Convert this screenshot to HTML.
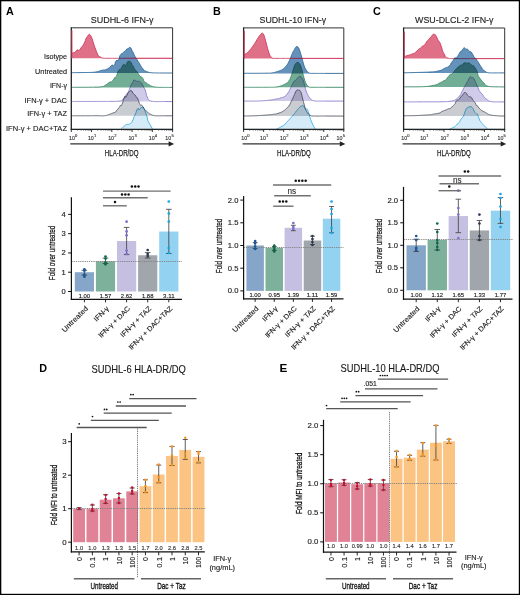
<!DOCTYPE html>
<html><head><meta charset="utf-8"><style>
html,body{margin:0;padding:0;background:#fff;}
svg{display:block;}
text{font-family:"Liberation Sans", sans-serif;}
</style></head><body>
<svg width="520" height="595" viewBox="0 0 520 595">
<rect x="0" y="0" width="520" height="595" fill="#fff"/>
<g style="isolation:isolate">
<g style="mix-blend-mode:multiply"><path d="M71.3,58.3 L71.6,30.3 L71.8,53.63 L72.37,53.26 L73.17,52.81 L74.1,52.66 L75,52.2 L75.71,51.81 L76.44,50.54 L77.19,50.12 L77.92,49.65 L78.6,50.8 L79.4,50.12 L80.16,49.31 L80.86,48.05 L81.5,47.14 L82.51,46.09 L83.4,44.98 L84.35,42.87 L85.3,40.8 L86.22,37.88 L87.2,36.9 L87.93,35.78 L88.7,34.6 L89.5,34.28 L90.3,35.05 L91.13,36.37 L92,38.38 L92.7,40.47 L93.42,42.98 L94.17,45.26 L94.9,47.38 L95.58,49.12 L96.23,51.08 L96.94,52.85 L97.8,54.8 L98.46,55.66 L99.16,56.3 L99.92,56.73 L100.74,57.23 L101.63,57.66 L102.6,57.96 L103.2,58.14 L103.79,58.24 L104.39,58.3 L105.01,58.3 L105.66,58.3 L106.37,58.3 L107.14,58.3 L107.99,58.3 L108.94,58.3 L110,58.3 L110.57,58.3 L111.19,58.3 L111.88,58.3 L112.6,58.3 L113.37,58.3 L114.17,58.3 L114.99,58.3 L115.83,58.3 L116.68,58.3 L117.54,58.3 L118.39,58.3 L119.22,58.3 L120.04,58.3 L120.83,58.3 L121.59,58.3 L122.3,58.3 L122.97,58.3 L123.58,58.3 L124.12,58.3 L124.6,58.3 L125,58.3 L172.6,58.3 Z" fill="#e07088" stroke="none"/><path d="M71.3,58.3 L71.6,30.3 L71.8,53.63 L72.37,53.26 L73.17,52.81 L74.1,52.66 L75,52.2 L75.71,51.81 L76.44,50.54 L77.19,50.12 L77.92,49.65 L78.6,50.8 L79.4,50.12 L80.16,49.31 L80.86,48.05 L81.5,47.14 L82.51,46.09 L83.4,44.98 L84.35,42.87 L85.3,40.8 L86.22,37.88 L87.2,36.9 L87.93,35.78 L88.7,34.6 L89.5,34.28 L90.3,35.05 L91.13,36.37 L92,38.38 L92.7,40.47 L93.42,42.98 L94.17,45.26 L94.9,47.38 L95.58,49.12 L96.23,51.08 L96.94,52.85 L97.8,54.8 L98.46,55.66 L99.16,56.3 L99.92,56.73 L100.74,57.23 L101.63,57.66 L102.6,57.96 L103.2,58.14 L103.79,58.24 L104.39,58.3 L105.01,58.3 L105.66,58.3 L106.37,58.3 L107.14,58.3 L107.99,58.3 L108.94,58.3 L110,58.3 L110.57,58.3 L111.19,58.3 L111.88,58.3 L112.6,58.3 L113.37,58.3 L114.17,58.3 L114.99,58.3 L115.83,58.3 L116.68,58.3 L117.54,58.3 L118.39,58.3 L119.22,58.3 L120.04,58.3 L120.83,58.3 L121.59,58.3 L122.3,58.3 L122.97,58.3 L123.58,58.3 L124.12,58.3 L124.6,58.3 L125,58.3 L172.6,58.3" fill="none" stroke="#cf3a5e" stroke-width="0.9" stroke-linejoin="round"/></g>
<g style="mix-blend-mode:multiply"><path d="M71.3,73 L71.4,73 L71.4,72.7 L71.8,72.69 L72.28,72.69 L72.82,72.68 L73.44,72.67 L74.1,72.67 L74.82,72.66 L75.57,72.65 L76.36,72.64 L77.17,72.63 L78,72.62 L78.84,72.61 L79.68,72.6 L80.51,72.58 L81.34,72.57 L82.14,72.56 L82.92,72.54 L83.66,72.53 L84.35,72.52 L85,72.5 L85.82,72.48 L86.61,72.47 L87.37,72.47 L88.11,72.46 L88.82,72.46 L89.52,72.45 L90.2,72.44 L90.87,72.43 L91.54,72.4 L92.2,72.37 L92.87,72.32 L93.53,72.27 L94.21,72.19 L94.9,72.09 L95.66,71.98 L96.44,71.84 L97.23,71.75 L98.03,71.58 L98.83,71.39 L99.63,70.92 L100.41,70.68 L101.17,70.45 L101.91,70.37 L102.62,70.15 L103.29,69.95 L103.92,70.14 L104.5,69.95 L105.55,69.72 L106.38,69.31 L107.07,69.08 L107.73,68.82 L108.44,68.31 L109.3,67.87 L109.98,67.43 L110.73,66.09 L111.53,65.49 L112.35,64.85 L113.17,66.04 L113.98,65.48 L114.75,64.93 L115.47,61.83 L116.1,61.06 L117.05,60.04 L117.83,61.07 L118.52,59.88 L119.18,58.72 L119.9,55.7 L120.69,54.64 L121.5,53.62 L122.31,53.65 L123.08,52.74 L123.8,51.88 L124.62,51.55 L125.38,50.75 L126.07,50.09 L126.7,49.12 L127.71,48.75 L128.6,48.59 L129.49,47.18 L130.5,47.66 L131.13,48.52 L131.83,50.2 L132.59,51.52 L133.4,52.89 L134.09,54.82 L134.81,56.13 L135.56,57.51 L136.36,58.56 L137.2,59.96 L137.95,61.32 L138.76,62.2 L139.59,63.75 L140.43,65.24 L141.24,66.6 L142,67.76 L142.82,68.73 L143.58,70.04 L144.32,70.53 L145.08,70.93 L145.9,71.21 L146.6,71.55 L147.27,71.85 L147.96,72.1 L148.73,72.33 L149.63,72.53 L150.7,72.67 L151.29,72.76 L151.98,72.81 L152.73,72.86 L153.53,72.89 L154.37,72.91 L155.22,72.93 L156.07,72.95 L156.9,72.96 L157.68,72.97 L158.4,72.98 L159.04,72.98 L159.58,72.99 L160,73 L172.6,73 Z" fill="#6592ba" stroke="none"/><path d="M71.3,73 L71.4,73 L71.4,72.7 L71.8,72.69 L72.28,72.69 L72.82,72.68 L73.44,72.67 L74.1,72.67 L74.82,72.66 L75.57,72.65 L76.36,72.64 L77.17,72.63 L78,72.62 L78.84,72.61 L79.68,72.6 L80.51,72.58 L81.34,72.57 L82.14,72.56 L82.92,72.54 L83.66,72.53 L84.35,72.52 L85,72.5 L85.82,72.48 L86.61,72.47 L87.37,72.47 L88.11,72.46 L88.82,72.46 L89.52,72.45 L90.2,72.44 L90.87,72.43 L91.54,72.4 L92.2,72.37 L92.87,72.32 L93.53,72.27 L94.21,72.19 L94.9,72.09 L95.66,71.98 L96.44,71.84 L97.23,71.75 L98.03,71.58 L98.83,71.39 L99.63,70.92 L100.41,70.68 L101.17,70.45 L101.91,70.37 L102.62,70.15 L103.29,69.95 L103.92,70.14 L104.5,69.95 L105.55,69.72 L106.38,69.31 L107.07,69.08 L107.73,68.82 L108.44,68.31 L109.3,67.87 L109.98,67.43 L110.73,66.09 L111.53,65.49 L112.35,64.85 L113.17,66.04 L113.98,65.48 L114.75,64.93 L115.47,61.83 L116.1,61.06 L117.05,60.04 L117.83,61.07 L118.52,59.88 L119.18,58.72 L119.9,55.7 L120.69,54.64 L121.5,53.62 L122.31,53.65 L123.08,52.74 L123.8,51.88 L124.62,51.55 L125.38,50.75 L126.07,50.09 L126.7,49.12 L127.71,48.75 L128.6,48.59 L129.49,47.18 L130.5,47.66 L131.13,48.52 L131.83,50.2 L132.59,51.52 L133.4,52.89 L134.09,54.82 L134.81,56.13 L135.56,57.51 L136.36,58.56 L137.2,59.96 L137.95,61.32 L138.76,62.2 L139.59,63.75 L140.43,65.24 L141.24,66.6 L142,67.76 L142.82,68.73 L143.58,70.04 L144.32,70.53 L145.08,70.93 L145.9,71.21 L146.6,71.55 L147.27,71.85 L147.96,72.1 L148.73,72.33 L149.63,72.53 L150.7,72.67 L151.29,72.76 L151.98,72.81 L152.73,72.86 L153.53,72.89 L154.37,72.91 L155.22,72.93 L156.07,72.95 L156.9,72.96 L157.68,72.97 L158.4,72.98 L159.04,72.98 L159.58,72.99 L160,73 L172.6,73" fill="none" stroke="#2f6a9a" stroke-width="0.9" stroke-linejoin="round"/></g>
<g style="mix-blend-mode:multiply"><path d="M71.3,87.4 L71.4,87.4 L71.4,87.3 L71.79,87.3 L72.24,87.3 L72.74,87.3 L73.3,87.3 L73.9,87.3 L74.55,87.3 L75.23,87.3 L75.95,87.3 L76.7,87.3 L77.47,87.3 L78.27,87.3 L79.08,87.29 L79.91,87.29 L80.75,87.29 L81.59,87.29 L82.44,87.29 L83.28,87.28 L84.11,87.28 L84.93,87.27 L85.74,87.27 L86.52,87.26 L87.28,87.25 L88.02,87.24 L88.72,87.23 L89.38,87.21 L90,87.2 L90.91,87.18 L91.79,87.16 L92.66,87.15 L93.5,87.14 L94.33,87.13 L95.13,87.12 L95.91,87.11 L96.67,87.09 L97.41,87.07 L98.13,87.04 L98.83,87 L99.51,86.95 L100.17,86.89 L100.81,86.81 L101.42,86.72 L102.02,86.62 L102.6,86.46 L103.62,86.3 L104.54,85.69 L105.37,85.23 L106.14,84.73 L106.84,84.26 L107.49,83.75 L108.11,83.27 L108.71,82.76 L109.3,82.35 L110.26,81.96 L111.07,81.91 L111.78,81.64 L112.47,81.23 L113.2,80.1 L113.96,78.97 L114.72,77.53 L115.48,77.92 L116.24,76.45 L117,75.08 L117.76,72 L118.51,70.8 L119.27,69.65 L120.06,69.46 L120.9,68.49 L121.66,67.67 L122.48,65.56 L123.33,64.89 L124.16,64.26 L124.96,65.65 L125.7,65.05 L126.65,64.33 L127.49,61.79 L128.31,61.34 L129.2,61.26 L129.85,61.38 L130.53,61.87 L131.22,62.52 L131.93,64.64 L132.66,65.5 L133.4,66.41 L134.17,68.49 L134.96,69.59 L135.76,70.77 L136.58,71.15 L137.39,72.33 L138.2,73.43 L139.01,74.81 L139.84,75.8 L140.66,76.76 L141.47,76.86 L142.26,77.78 L143,78.73 L143.79,80.9 L144.5,81.8 L145.18,82.67 L145.93,82.5 L146.8,83.32 L147.43,83.91 L148.11,84.2 L148.83,84.65 L149.58,85.07 L150.34,85.72 L151.1,86.02 L151.86,86.28 L152.6,86.49 L153.29,86.69 L153.91,86.85 L154.52,86.97 L155.14,87.06 L155.8,87.14 L156.54,87.19 L157.4,87.25 L158.4,87.29 L158.99,87.32 L159.65,87.35 L160.38,87.36 L161.16,87.38 L161.99,87.39 L162.83,87.39 L163.7,87.4 L164.56,87.4 L165.42,87.4 L166.24,87.4 L167.04,87.4 L167.78,87.4 L168.46,87.4 L169.07,87.4 L169.58,87.4 L170,87.4 L172.6,87.4 Z" fill="#72ae95" stroke="none"/><path d="M71.3,87.4 L71.4,87.4 L71.4,87.3 L71.79,87.3 L72.24,87.3 L72.74,87.3 L73.3,87.3 L73.9,87.3 L74.55,87.3 L75.23,87.3 L75.95,87.3 L76.7,87.3 L77.47,87.3 L78.27,87.3 L79.08,87.29 L79.91,87.29 L80.75,87.29 L81.59,87.29 L82.44,87.29 L83.28,87.28 L84.11,87.28 L84.93,87.27 L85.74,87.27 L86.52,87.26 L87.28,87.25 L88.02,87.24 L88.72,87.23 L89.38,87.21 L90,87.2 L90.91,87.18 L91.79,87.16 L92.66,87.15 L93.5,87.14 L94.33,87.13 L95.13,87.12 L95.91,87.11 L96.67,87.09 L97.41,87.07 L98.13,87.04 L98.83,87 L99.51,86.95 L100.17,86.89 L100.81,86.81 L101.42,86.72 L102.02,86.62 L102.6,86.46 L103.62,86.3 L104.54,85.69 L105.37,85.23 L106.14,84.73 L106.84,84.26 L107.49,83.75 L108.11,83.27 L108.71,82.76 L109.3,82.35 L110.26,81.96 L111.07,81.91 L111.78,81.64 L112.47,81.23 L113.2,80.1 L113.96,78.97 L114.72,77.53 L115.48,77.92 L116.24,76.45 L117,75.08 L117.76,72 L118.51,70.8 L119.27,69.65 L120.06,69.46 L120.9,68.49 L121.66,67.67 L122.48,65.56 L123.33,64.89 L124.16,64.26 L124.96,65.65 L125.7,65.05 L126.65,64.33 L127.49,61.79 L128.31,61.34 L129.2,61.26 L129.85,61.38 L130.53,61.87 L131.22,62.52 L131.93,64.64 L132.66,65.5 L133.4,66.41 L134.17,68.49 L134.96,69.59 L135.76,70.77 L136.58,71.15 L137.39,72.33 L138.2,73.43 L139.01,74.81 L139.84,75.8 L140.66,76.76 L141.47,76.86 L142.26,77.78 L143,78.73 L143.79,80.9 L144.5,81.8 L145.18,82.67 L145.93,82.5 L146.8,83.32 L147.43,83.91 L148.11,84.2 L148.83,84.65 L149.58,85.07 L150.34,85.72 L151.1,86.02 L151.86,86.28 L152.6,86.49 L153.29,86.69 L153.91,86.85 L154.52,86.97 L155.14,87.06 L155.8,87.14 L156.54,87.19 L157.4,87.25 L158.4,87.29 L158.99,87.32 L159.65,87.35 L160.38,87.36 L161.16,87.38 L161.99,87.39 L162.83,87.39 L163.7,87.4 L164.56,87.4 L165.42,87.4 L166.24,87.4 L167.04,87.4 L167.78,87.4 L168.46,87.4 L169.07,87.4 L169.58,87.4 L170,87.4 L172.6,87.4" fill="none" stroke="#3a8a68" stroke-width="0.9" stroke-linejoin="round"/></g>
<g style="mix-blend-mode:multiply"><path d="M71.3,101.6 L71.4,101.6 L71.4,101.5 L71.77,101.5 L72.17,101.5 L72.61,101.5 L73.08,101.5 L73.57,101.5 L74.1,101.49 L74.66,101.49 L75.24,101.49 L75.85,101.49 L76.48,101.49 L77.14,101.49 L77.82,101.49 L78.52,101.49 L79.23,101.48 L79.97,101.48 L80.72,101.48 L81.49,101.48 L82.28,101.48 L83.07,101.48 L83.88,101.48 L84.7,101.47 L85.53,101.47 L86.37,101.47 L87.21,101.47 L88.06,101.47 L88.91,101.47 L89.77,101.46 L90.63,101.46 L91.49,101.46 L92.35,101.46 L93.21,101.46 L94.06,101.45 L94.91,101.45 L95.75,101.45 L96.59,101.45 L97.42,101.45 L98.24,101.44 L99.05,101.44 L99.85,101.44 L100.64,101.44 L101.41,101.43 L102.16,101.43 L102.9,101.43 L103.62,101.43 L104.32,101.43 L105,101.42 L105.66,101.42 L106.3,101.42 L106.91,101.42 L107.5,101.41 L108.05,101.41 L108.59,101.41 L109.09,101.41 L109.56,101.4 L110,101.4 L111.89,101.39 L113.37,101.38 L114.5,101.37 L115.33,101.36 L115.93,101.34 L116.36,101.33 L116.67,101.31 L116.93,101.29 L117.2,101.27 L117.54,101.24 L118,101.2 L119.07,101.15 L119.94,101.1 L120.66,101.01 L121.33,100.82 L122,100.54 L122.81,99.86 L123.52,98.99 L124.23,97.97 L125,96.49 L125.69,95.35 L126.43,94.19 L127.18,93.92 L127.92,92.76 L128.6,91.28 L129.38,89.6 L130.1,87.53 L130.8,85.58 L131.5,83.82 L132.2,82.82 L132.9,82.25 L133.6,80.2 L134.3,80.07 L134.99,80.11 L135.68,80.87 L136.4,81.17 L137.2,81.44 L137.93,81.15 L138.74,81.28 L139.56,81.43 L140.37,82.24 L141.1,82.66 L141.92,83.33 L142.68,85.23 L143.37,86.26 L144,87.78 L145.01,89.3 L145.9,92.41 L146.67,95.75 L147.8,98.25 L148.34,99.55 L148.9,100.11 L149.54,100.5 L150.33,100.91 L151.33,101.17 L152.6,101.36 L153.15,101.46 L153.79,101.51 L154.49,101.55 L155.26,101.58 L156.07,101.6 L156.91,101.6 L157.78,101.6 L158.66,101.6 L159.54,101.59 L160.4,101.58 L161.23,101.56 L162.03,101.55 L162.77,101.53 L163.46,101.52 L164.06,101.51 L164.58,101.5 L165,101.5 L172.6,101.6 Z" fill="#d0cbe8" stroke="none"/><path d="M71.3,101.6 L71.4,101.6 L71.4,101.5 L71.77,101.5 L72.17,101.5 L72.61,101.5 L73.08,101.5 L73.57,101.5 L74.1,101.49 L74.66,101.49 L75.24,101.49 L75.85,101.49 L76.48,101.49 L77.14,101.49 L77.82,101.49 L78.52,101.49 L79.23,101.48 L79.97,101.48 L80.72,101.48 L81.49,101.48 L82.28,101.48 L83.07,101.48 L83.88,101.48 L84.7,101.47 L85.53,101.47 L86.37,101.47 L87.21,101.47 L88.06,101.47 L88.91,101.47 L89.77,101.46 L90.63,101.46 L91.49,101.46 L92.35,101.46 L93.21,101.46 L94.06,101.45 L94.91,101.45 L95.75,101.45 L96.59,101.45 L97.42,101.45 L98.24,101.44 L99.05,101.44 L99.85,101.44 L100.64,101.44 L101.41,101.43 L102.16,101.43 L102.9,101.43 L103.62,101.43 L104.32,101.43 L105,101.42 L105.66,101.42 L106.3,101.42 L106.91,101.42 L107.5,101.41 L108.05,101.41 L108.59,101.41 L109.09,101.41 L109.56,101.4 L110,101.4 L111.89,101.39 L113.37,101.38 L114.5,101.37 L115.33,101.36 L115.93,101.34 L116.36,101.33 L116.67,101.31 L116.93,101.29 L117.2,101.27 L117.54,101.24 L118,101.2 L119.07,101.15 L119.94,101.1 L120.66,101.01 L121.33,100.82 L122,100.54 L122.81,99.86 L123.52,98.99 L124.23,97.97 L125,96.49 L125.69,95.35 L126.43,94.19 L127.18,93.92 L127.92,92.76 L128.6,91.28 L129.38,89.6 L130.1,87.53 L130.8,85.58 L131.5,83.82 L132.2,82.82 L132.9,82.25 L133.6,80.2 L134.3,80.07 L134.99,80.11 L135.68,80.87 L136.4,81.17 L137.2,81.44 L137.93,81.15 L138.74,81.28 L139.56,81.43 L140.37,82.24 L141.1,82.66 L141.92,83.33 L142.68,85.23 L143.37,86.26 L144,87.78 L145.01,89.3 L145.9,92.41 L146.67,95.75 L147.8,98.25 L148.34,99.55 L148.9,100.11 L149.54,100.5 L150.33,100.91 L151.33,101.17 L152.6,101.36 L153.15,101.46 L153.79,101.51 L154.49,101.55 L155.26,101.58 L156.07,101.6 L156.91,101.6 L157.78,101.6 L158.66,101.6 L159.54,101.59 L160.4,101.58 L161.23,101.56 L162.03,101.55 L162.77,101.53 L163.46,101.52 L164.06,101.51 L164.58,101.5 L165,101.5 L172.6,101.6" fill="none" stroke="#8c7fd0" stroke-width="0.9" stroke-linejoin="round"/></g>
<g style="mix-blend-mode:multiply"><path d="M71.3,115.8 L71.4,115.8 L71.4,115.8 L71.78,115.8 L72.22,115.8 L72.7,115.8 L73.23,115.79 L73.81,115.79 L74.42,115.79 L75.07,115.79 L75.75,115.79 L76.46,115.79 L77.2,115.78 L77.97,115.78 L78.75,115.78 L79.56,115.78 L80.38,115.77 L81.21,115.77 L82.06,115.77 L82.91,115.77 L83.76,115.76 L84.62,115.76 L85.47,115.76 L86.32,115.76 L87.16,115.75 L87.98,115.75 L88.8,115.74 L89.6,115.74 L90.37,115.74 L91.13,115.73 L91.85,115.73 L92.55,115.72 L93.22,115.72 L93.85,115.71 L94.45,115.71 L95,115.7 L96.05,115.7 L97.02,115.71 L97.92,115.72 L98.75,115.75 L99.52,115.77 L100.24,115.8 L100.92,115.8 L101.57,115.8 L102.19,115.8 L102.79,115.8 L103.39,115.8 L103.98,115.79 L104.58,115.73 L105.19,115.65 L105.83,115.53 L106.5,115.39 L107.24,115.21 L107.99,114.99 L108.76,114.62 L109.52,114.33 L110.29,114.12 L111.05,113.79 L111.8,113.45 L112.54,113.19 L113.26,112.83 L113.96,112.46 L114.63,112.57 L115.28,112.23 L115.89,111.89 L116.47,110.42 L117,109.82 L118.14,108.84 L119.06,107.74 L119.81,106.5 L120.48,105.2 L121.12,105.84 L121.8,104.56 L122.64,103.1 L123.43,99.31 L124.19,97.73 L124.94,96.22 L125.7,97.41 L126.45,96.13 L127.18,94.93 L127.91,92.91 L128.68,92.09 L129.5,91.61 L130.26,90.59 L131.1,90.72 L131.96,91.05 L132.8,93.16 L133.6,93.7 L134.3,94.37 L135.16,95.11 L135.87,96.27 L136.52,97.55 L137.2,97.66 L137.88,99.03 L138.53,100.44 L139.24,103.21 L140.1,104.55 L140.78,105.65 L141.52,104.92 L142.32,105.99 L143.16,107.05 L144.02,108.9 L144.9,109.74 L145.58,110.45 L146.28,110.98 L147,111.65 L147.74,112.29 L148.48,113.13 L149.23,113.65 L149.97,114.11 L150.7,114.3 L151.41,114.68 L152.09,115.03 L152.76,115.26 L153.43,115.44 L154.13,115.59 L154.86,115.7 L155.65,115.8 L156.5,115.8 L157.14,115.8 L157.86,115.8 L158.63,115.8 L159.45,115.8 L160.28,115.8 L161.11,115.8 L161.92,115.8 L162.7,115.8 L163.41,115.8 L164.04,115.8 L164.58,115.8 L165,115.8 L172.6,115.8 Z" fill="#c9ccd1" stroke="none"/><path d="M71.3,115.8 L71.4,115.8 L71.4,115.8 L71.78,115.8 L72.22,115.8 L72.7,115.8 L73.23,115.79 L73.81,115.79 L74.42,115.79 L75.07,115.79 L75.75,115.79 L76.46,115.79 L77.2,115.78 L77.97,115.78 L78.75,115.78 L79.56,115.78 L80.38,115.77 L81.21,115.77 L82.06,115.77 L82.91,115.77 L83.76,115.76 L84.62,115.76 L85.47,115.76 L86.32,115.76 L87.16,115.75 L87.98,115.75 L88.8,115.74 L89.6,115.74 L90.37,115.74 L91.13,115.73 L91.85,115.73 L92.55,115.72 L93.22,115.72 L93.85,115.71 L94.45,115.71 L95,115.7 L96.05,115.7 L97.02,115.71 L97.92,115.72 L98.75,115.75 L99.52,115.77 L100.24,115.8 L100.92,115.8 L101.57,115.8 L102.19,115.8 L102.79,115.8 L103.39,115.8 L103.98,115.79 L104.58,115.73 L105.19,115.65 L105.83,115.53 L106.5,115.39 L107.24,115.21 L107.99,114.99 L108.76,114.62 L109.52,114.33 L110.29,114.12 L111.05,113.79 L111.8,113.45 L112.54,113.19 L113.26,112.83 L113.96,112.46 L114.63,112.57 L115.28,112.23 L115.89,111.89 L116.47,110.42 L117,109.82 L118.14,108.84 L119.06,107.74 L119.81,106.5 L120.48,105.2 L121.12,105.84 L121.8,104.56 L122.64,103.1 L123.43,99.31 L124.19,97.73 L124.94,96.22 L125.7,97.41 L126.45,96.13 L127.18,94.93 L127.91,92.91 L128.68,92.09 L129.5,91.61 L130.26,90.59 L131.1,90.72 L131.96,91.05 L132.8,93.16 L133.6,93.7 L134.3,94.37 L135.16,95.11 L135.87,96.27 L136.52,97.55 L137.2,97.66 L137.88,99.03 L138.53,100.44 L139.24,103.21 L140.1,104.55 L140.78,105.65 L141.52,104.92 L142.32,105.99 L143.16,107.05 L144.02,108.9 L144.9,109.74 L145.58,110.45 L146.28,110.98 L147,111.65 L147.74,112.29 L148.48,113.13 L149.23,113.65 L149.97,114.11 L150.7,114.3 L151.41,114.68 L152.09,115.03 L152.76,115.26 L153.43,115.44 L154.13,115.59 L154.86,115.7 L155.65,115.8 L156.5,115.8 L157.14,115.8 L157.86,115.8 L158.63,115.8 L159.45,115.8 L160.28,115.8 L161.11,115.8 L161.92,115.8 L162.7,115.8 L163.41,115.8 L164.04,115.8 L164.58,115.8 L165,115.8 L172.6,115.8" fill="none" stroke="#5a606b" stroke-width="0.9" stroke-linejoin="round"/></g>
<g style="mix-blend-mode:multiply"><path d="M71.3,129.4 L120.9,129.4 L120.9,129.3 L121.4,128.77 L122.07,128.13 L122.88,127.34 L123.78,126.52 L124.73,125.74 L125.7,125 L126.38,124.58 L127.13,124.29 L127.93,124.55 L128.76,124.34 L129.58,124.13 L130.38,123.29 L131.13,122.93 L131.81,122.48 L132.4,120.99 L133.39,119.15 L134.09,116.82 L134.66,115.96 L135.3,114.05 L136.03,112.65 L136.75,109.93 L137.47,109.09 L138.2,108.26 L138.92,110.09 L139.65,109.2 L140.37,108.53 L141.1,107.4 L141.8,107.54 L142.49,108.06 L143.21,107.09 L144,108.35 L144.69,109.89 L145.41,112.11 L146.16,114.14 L146.96,116.24 L147.8,120.47 L148.6,122.14 L149.5,123.78 L150.44,125.19 L151.32,126.82 L152.07,128.2 L152.6,129.3 L172.6,129.4 Z" fill="#d6ebf8" stroke="none"/><path d="M71.3,129.4 L120.9,129.4 L120.9,129.3 L121.4,128.77 L122.07,128.13 L122.88,127.34 L123.78,126.52 L124.73,125.74 L125.7,125 L126.38,124.58 L127.13,124.29 L127.93,124.55 L128.76,124.34 L129.58,124.13 L130.38,123.29 L131.13,122.93 L131.81,122.48 L132.4,120.99 L133.39,119.15 L134.09,116.82 L134.66,115.96 L135.3,114.05 L136.03,112.65 L136.75,109.93 L137.47,109.09 L138.2,108.26 L138.92,110.09 L139.65,109.2 L140.37,108.53 L141.1,107.4 L141.8,107.54 L142.49,108.06 L143.21,107.09 L144,108.35 L144.69,109.89 L145.41,112.11 L146.16,114.14 L146.96,116.24 L147.8,120.47 L148.6,122.14 L149.5,123.78 L150.44,125.19 L151.32,126.82 L152.07,128.2 L152.6,129.3 L172.6,129.4" fill="none" stroke="#3cafe1" stroke-width="0.9" stroke-linejoin="round"/></g>
<line x1="71.3" y1="27.8" x2="172.6" y2="27.8" stroke="#333" stroke-width="1" />
<line x1="172.6" y1="27.8" x2="172.6" y2="129.4" stroke="#333" stroke-width="1" />
<line x1="71.3" y1="27.3" x2="71.3" y2="129.9" stroke="#222" stroke-width="1.3" />
<line x1="70.7" y1="129.4" x2="173.1" y2="129.4" stroke="#222" stroke-width="1.3" />
<line x1="71.8" y1="30.3" x2="71.8" y2="58.3" stroke="#cf3a5e" stroke-width="0.9"/>
<path d="M125,58.3 L172.6,58.3" fill="none" stroke="#cf3a5e" stroke-opacity="0.6" stroke-width="0.9"/>
<line x1="71.3" y1="129.4" x2="71.3" y2="132" stroke="#222" stroke-width="0.9" />
<line x1="77.4" y1="129.4" x2="77.4" y2="130.7" stroke="#333" stroke-width="0.6" />
<line x1="80.97" y1="129.4" x2="80.97" y2="130.7" stroke="#333" stroke-width="0.6" />
<line x1="83.5" y1="129.4" x2="83.5" y2="130.7" stroke="#333" stroke-width="0.6" />
<line x1="85.46" y1="129.4" x2="85.46" y2="130.7" stroke="#333" stroke-width="0.6" />
<line x1="87.07" y1="129.4" x2="87.07" y2="130.7" stroke="#333" stroke-width="0.6" />
<line x1="88.42" y1="129.4" x2="88.42" y2="130.7" stroke="#333" stroke-width="0.6" />
<line x1="89.6" y1="129.4" x2="89.6" y2="130.7" stroke="#333" stroke-width="0.6" />
<line x1="90.63" y1="129.4" x2="90.63" y2="130.7" stroke="#333" stroke-width="0.6" />
<text x="71.9" y="140.3" font-size="6.2" text-anchor="middle" fill="#333" textLength="5.9" lengthAdjust="spacingAndGlyphs"  stroke="#333" stroke-width="0.14">10</text>
<text x="76.2" y="137" font-size="4.1" text-anchor="middle" fill="#333"  stroke="#333" stroke-width="0.14">0</text>
<line x1="91.56" y1="129.4" x2="91.56" y2="132" stroke="#222" stroke-width="0.9" />
<line x1="97.66" y1="129.4" x2="97.66" y2="130.7" stroke="#333" stroke-width="0.6" />
<line x1="101.23" y1="129.4" x2="101.23" y2="130.7" stroke="#333" stroke-width="0.6" />
<line x1="103.76" y1="129.4" x2="103.76" y2="130.7" stroke="#333" stroke-width="0.6" />
<line x1="105.72" y1="129.4" x2="105.72" y2="130.7" stroke="#333" stroke-width="0.6" />
<line x1="107.33" y1="129.4" x2="107.33" y2="130.7" stroke="#333" stroke-width="0.6" />
<line x1="108.68" y1="129.4" x2="108.68" y2="130.7" stroke="#333" stroke-width="0.6" />
<line x1="109.86" y1="129.4" x2="109.86" y2="130.7" stroke="#333" stroke-width="0.6" />
<line x1="110.89" y1="129.4" x2="110.89" y2="130.7" stroke="#333" stroke-width="0.6" />
<text x="90.86" y="140.3" font-size="6.2" text-anchor="middle" fill="#333" textLength="5.9" lengthAdjust="spacingAndGlyphs"  stroke="#333" stroke-width="0.14">10</text>
<text x="95.16" y="137" font-size="4.1" text-anchor="middle" fill="#333"  stroke="#333" stroke-width="0.14">1</text>
<line x1="111.82" y1="129.4" x2="111.82" y2="132" stroke="#222" stroke-width="0.9" />
<line x1="117.92" y1="129.4" x2="117.92" y2="130.7" stroke="#333" stroke-width="0.6" />
<line x1="121.49" y1="129.4" x2="121.49" y2="130.7" stroke="#333" stroke-width="0.6" />
<line x1="124.02" y1="129.4" x2="124.02" y2="130.7" stroke="#333" stroke-width="0.6" />
<line x1="125.98" y1="129.4" x2="125.98" y2="130.7" stroke="#333" stroke-width="0.6" />
<line x1="127.59" y1="129.4" x2="127.59" y2="130.7" stroke="#333" stroke-width="0.6" />
<line x1="128.94" y1="129.4" x2="128.94" y2="130.7" stroke="#333" stroke-width="0.6" />
<line x1="130.12" y1="129.4" x2="130.12" y2="130.7" stroke="#333" stroke-width="0.6" />
<line x1="131.15" y1="129.4" x2="131.15" y2="130.7" stroke="#333" stroke-width="0.6" />
<text x="111.12" y="140.3" font-size="6.2" text-anchor="middle" fill="#333" textLength="5.9" lengthAdjust="spacingAndGlyphs"  stroke="#333" stroke-width="0.14">10</text>
<text x="115.42" y="137" font-size="4.1" text-anchor="middle" fill="#333"  stroke="#333" stroke-width="0.14">2</text>
<line x1="132.08" y1="129.4" x2="132.08" y2="132" stroke="#222" stroke-width="0.9" />
<line x1="138.18" y1="129.4" x2="138.18" y2="130.7" stroke="#333" stroke-width="0.6" />
<line x1="141.75" y1="129.4" x2="141.75" y2="130.7" stroke="#333" stroke-width="0.6" />
<line x1="144.28" y1="129.4" x2="144.28" y2="130.7" stroke="#333" stroke-width="0.6" />
<line x1="146.24" y1="129.4" x2="146.24" y2="130.7" stroke="#333" stroke-width="0.6" />
<line x1="147.85" y1="129.4" x2="147.85" y2="130.7" stroke="#333" stroke-width="0.6" />
<line x1="149.2" y1="129.4" x2="149.2" y2="130.7" stroke="#333" stroke-width="0.6" />
<line x1="150.38" y1="129.4" x2="150.38" y2="130.7" stroke="#333" stroke-width="0.6" />
<line x1="151.41" y1="129.4" x2="151.41" y2="130.7" stroke="#333" stroke-width="0.6" />
<text x="131.38" y="140.3" font-size="6.2" text-anchor="middle" fill="#333" textLength="5.9" lengthAdjust="spacingAndGlyphs"  stroke="#333" stroke-width="0.14">10</text>
<text x="135.68" y="137" font-size="4.1" text-anchor="middle" fill="#333"  stroke="#333" stroke-width="0.14">3</text>
<line x1="152.34" y1="129.4" x2="152.34" y2="132" stroke="#222" stroke-width="0.9" />
<line x1="158.44" y1="129.4" x2="158.44" y2="130.7" stroke="#333" stroke-width="0.6" />
<line x1="162.01" y1="129.4" x2="162.01" y2="130.7" stroke="#333" stroke-width="0.6" />
<line x1="164.54" y1="129.4" x2="164.54" y2="130.7" stroke="#333" stroke-width="0.6" />
<line x1="166.5" y1="129.4" x2="166.5" y2="130.7" stroke="#333" stroke-width="0.6" />
<line x1="168.11" y1="129.4" x2="168.11" y2="130.7" stroke="#333" stroke-width="0.6" />
<line x1="169.46" y1="129.4" x2="169.46" y2="130.7" stroke="#333" stroke-width="0.6" />
<line x1="170.64" y1="129.4" x2="170.64" y2="130.7" stroke="#333" stroke-width="0.6" />
<line x1="171.67" y1="129.4" x2="171.67" y2="130.7" stroke="#333" stroke-width="0.6" />
<text x="151.64" y="140.3" font-size="6.2" text-anchor="middle" fill="#333" textLength="5.9" lengthAdjust="spacingAndGlyphs"  stroke="#333" stroke-width="0.14">10</text>
<text x="155.94" y="137" font-size="4.1" text-anchor="middle" fill="#333"  stroke="#333" stroke-width="0.14">4</text>
<line x1="172.6" y1="129.4" x2="172.6" y2="132" stroke="#222" stroke-width="0.9" />
<text x="168.3" y="140.3" font-size="6.2" text-anchor="middle" fill="#333" textLength="5.9" lengthAdjust="spacingAndGlyphs"  stroke="#333" stroke-width="0.14">10</text>
<text x="172.6" y="137" font-size="4.1" text-anchor="middle" fill="#333"  stroke="#333" stroke-width="0.14">5</text>
<line x1="70.3" y1="143.9" x2="169.6" y2="143.9" stroke="#333" stroke-width="1.3" />
<path d="M168.6,141.3 L174.1,143.9 L168.6,146.5 Z" fill="#222"/>
<text x="104.8" y="155.6" font-size="9.0" text-anchor="start" fill="#1a1a1a" textLength="33.7" lengthAdjust="spacingAndGlyphs" stroke="#1a1a1a" stroke-width="0.25">HLA-DR/DQ</text>
<g style="mix-blend-mode:multiply"><path d="M243.6,58.4 L243.9,31 L243.8,54.73 L244.26,54.54 L244.89,54.31 L245.65,53.84 L246.5,53.35 L247.4,52.72 L248.09,51.96 L248.86,51.16 L249.67,50.26 L250.5,49.31 L251.33,48.29 L252.14,47.28 L252.9,46.11 L253.74,44.95 L254.54,43.69 L255.33,42.38 L256.1,41.11 L256.85,39.89 L257.6,38.49 L258.5,37.18 L259.41,35.84 L260.29,34.88 L261.1,33.91 L261.8,33.3 L262.66,33.15 L263.3,33.78 L264,35.19 L264.68,37.51 L265.42,40.08 L266.15,42.81 L266.8,45.46 L267.7,48.95 L268.7,52.04 L269.28,54.05 L269.92,55.27 L270.63,56.39 L271.42,57.33 L272.3,57.99 L272.87,58.35 L273.43,58.4 L274.01,58.4 L274.62,58.4 L275.31,58.4 L276.08,58.4 L276.97,58.4 L278,58.4 L278.56,58.4 L279.2,58.4 L279.89,58.4 L280.64,58.4 L281.43,58.4 L282.25,58.4 L283.09,58.4 L283.94,58.4 L284.78,58.4 L285.6,58.4 L286.4,58.4 L287.16,58.4 L287.87,58.4 L288.52,58.4 L289.1,58.4 L289.6,58.4 L290,58.4 L343.8,58.4 Z" fill="#e07088" stroke="none"/><path d="M243.6,58.4 L243.9,31 L243.8,54.73 L244.26,54.54 L244.89,54.31 L245.65,53.84 L246.5,53.35 L247.4,52.72 L248.09,51.96 L248.86,51.16 L249.67,50.26 L250.5,49.31 L251.33,48.29 L252.14,47.28 L252.9,46.11 L253.74,44.95 L254.54,43.69 L255.33,42.38 L256.1,41.11 L256.85,39.89 L257.6,38.49 L258.5,37.18 L259.41,35.84 L260.29,34.88 L261.1,33.91 L261.8,33.3 L262.66,33.15 L263.3,33.78 L264,35.19 L264.68,37.51 L265.42,40.08 L266.15,42.81 L266.8,45.46 L267.7,48.95 L268.7,52.04 L269.28,54.05 L269.92,55.27 L270.63,56.39 L271.42,57.33 L272.3,57.99 L272.87,58.35 L273.43,58.4 L274.01,58.4 L274.62,58.4 L275.31,58.4 L276.08,58.4 L276.97,58.4 L278,58.4 L278.56,58.4 L279.2,58.4 L279.89,58.4 L280.64,58.4 L281.43,58.4 L282.25,58.4 L283.09,58.4 L283.94,58.4 L284.78,58.4 L285.6,58.4 L286.4,58.4 L287.16,58.4 L287.87,58.4 L288.52,58.4 L289.1,58.4 L289.6,58.4 L290,58.4 L343.8,58.4" fill="none" stroke="#cf3a5e" stroke-width="0.9" stroke-linejoin="round"/></g>
<g style="mix-blend-mode:multiply"><path d="M243.6,73.4 L243.6,73.4 L243.6,73.3 L243.99,73.3 L244.43,73.3 L244.93,73.3 L245.48,73.29 L246.08,73.29 L246.72,73.29 L247.4,73.29 L248.11,73.29 L248.86,73.29 L249.63,73.29 L250.43,73.29 L251.25,73.29 L252.08,73.28 L252.93,73.28 L253.78,73.28 L254.64,73.28 L255.5,73.28 L256.36,73.27 L257.21,73.27 L258.04,73.27 L258.87,73.26 L259.67,73.26 L260.46,73.25 L261.22,73.25 L261.94,73.24 L262.64,73.23 L263.29,73.23 L263.91,73.22 L264.48,73.21 L265,73.2 L266.24,73.18 L267.29,73.17 L268.18,73.17 L268.94,73.16 L269.61,73.15 L270.2,73.14 L270.77,73.1 L271.33,73.04 L271.91,72.96 L272.56,72.84 L273.3,72.7 L273.99,72.54 L274.71,72.37 L275.46,72.17 L276.22,71.89 L276.98,71.64 L277.75,71.38 L278.51,71.18 L279.26,70.9 L279.98,70.62 L280.67,70.42 L281.33,70.13 L281.94,69.84 L282.5,69.38 L283.54,68.81 L284.41,68.12 L285.14,67.25 L285.8,66.45 L286.44,65.58 L287.1,64.79 L287.9,63.57 L288.64,62.15 L289.36,60.59 L290.07,59.03 L290.8,57.42 L291.56,55.3 L292.34,53.5 L293.11,51.71 L293.84,50.58 L294.5,49.19 L295.4,48.03 L296.16,46.76 L296.9,46.54 L297.66,46.72 L298.41,47.6 L299.2,49.12 L300.07,51.6 L300.98,54.72 L301.9,57.84 L302.57,60.49 L303.24,63.07 L303.93,65.36 L304.7,67.3 L305.35,68.79 L306.02,70.01 L306.74,71.07 L307.52,72.01 L308.4,72.6 L308.97,72.98 L309.54,73.19 L310.12,73.31 L310.74,73.36 L311.42,73.38 L312.18,73.38 L313.03,73.38 L314,73.4 L314.6,73.4 L315.28,73.4 L316.03,73.4 L316.83,73.4 L317.67,73.4 L318.54,73.4 L319.41,73.4 L320.28,73.4 L321.13,73.4 L321.95,73.4 L322.71,73.4 L323.42,73.4 L324.04,73.4 L324.57,73.4 L325,73.4 L343.8,73.4 Z" fill="#6592ba" stroke="none"/><path d="M243.6,73.4 L243.6,73.4 L243.6,73.3 L243.99,73.3 L244.43,73.3 L244.93,73.3 L245.48,73.29 L246.08,73.29 L246.72,73.29 L247.4,73.29 L248.11,73.29 L248.86,73.29 L249.63,73.29 L250.43,73.29 L251.25,73.29 L252.08,73.28 L252.93,73.28 L253.78,73.28 L254.64,73.28 L255.5,73.28 L256.36,73.27 L257.21,73.27 L258.04,73.27 L258.87,73.26 L259.67,73.26 L260.46,73.25 L261.22,73.25 L261.94,73.24 L262.64,73.23 L263.29,73.23 L263.91,73.22 L264.48,73.21 L265,73.2 L266.24,73.18 L267.29,73.17 L268.18,73.17 L268.94,73.16 L269.61,73.15 L270.2,73.14 L270.77,73.1 L271.33,73.04 L271.91,72.96 L272.56,72.84 L273.3,72.7 L273.99,72.54 L274.71,72.37 L275.46,72.17 L276.22,71.89 L276.98,71.64 L277.75,71.38 L278.51,71.18 L279.26,70.9 L279.98,70.62 L280.67,70.42 L281.33,70.13 L281.94,69.84 L282.5,69.38 L283.54,68.81 L284.41,68.12 L285.14,67.25 L285.8,66.45 L286.44,65.58 L287.1,64.79 L287.9,63.57 L288.64,62.15 L289.36,60.59 L290.07,59.03 L290.8,57.42 L291.56,55.3 L292.34,53.5 L293.11,51.71 L293.84,50.58 L294.5,49.19 L295.4,48.03 L296.16,46.76 L296.9,46.54 L297.66,46.72 L298.41,47.6 L299.2,49.12 L300.07,51.6 L300.98,54.72 L301.9,57.84 L302.57,60.49 L303.24,63.07 L303.93,65.36 L304.7,67.3 L305.35,68.79 L306.02,70.01 L306.74,71.07 L307.52,72.01 L308.4,72.6 L308.97,72.98 L309.54,73.19 L310.12,73.31 L310.74,73.36 L311.42,73.38 L312.18,73.38 L313.03,73.38 L314,73.4 L314.6,73.4 L315.28,73.4 L316.03,73.4 L316.83,73.4 L317.67,73.4 L318.54,73.4 L319.41,73.4 L320.28,73.4 L321.13,73.4 L321.95,73.4 L322.71,73.4 L323.42,73.4 L324.04,73.4 L324.57,73.4 L325,73.4 L343.8,73.4" fill="none" stroke="#2f6a9a" stroke-width="0.9" stroke-linejoin="round"/></g>
<g style="mix-blend-mode:multiply"><path d="M243.6,87.3 L243.6,87.3 L243.6,87.3 L243.99,87.3 L244.42,87.3 L244.92,87.3 L245.45,87.3 L246.04,87.3 L246.66,87.3 L247.32,87.3 L248.02,87.3 L248.74,87.3 L249.5,87.3 L250.27,87.3 L251.07,87.3 L251.88,87.3 L252.71,87.3 L253.55,87.3 L254.39,87.3 L255.24,87.3 L256.09,87.3 L256.93,87.3 L257.77,87.3 L258.6,87.3 L259.41,87.3 L260.2,87.3 L260.98,87.3 L261.73,87.3 L262.45,87.3 L263.14,87.3 L263.8,87.3 L264.42,87.3 L265,87.3 L265.96,87.29 L266.86,87.28 L267.73,87.28 L268.55,87.28 L269.33,87.28 L270.08,87.28 L270.8,87.28 L271.48,87.27 L272.15,87.26 L272.79,87.25 L273.42,87.23 L274.03,87.2 L274.63,87.16 L275.22,87.12 L275.82,87.06 L276.41,86.98 L277,86.88 L277.91,86.73 L278.8,86.54 L279.65,86.33 L280.48,86.04 L281.28,85.77 L282.05,85.49 L282.78,85.22 L283.47,84.92 L284.12,84.62 L284.73,84.31 L285.3,83.92 L286.35,83.35 L287.15,82.97 L287.81,82.29 L288.39,81.55 L289,80.63 L289.77,79.54 L290.46,78.29 L291.13,76.2 L291.8,74.24 L292.71,71.46 L293.62,68.54 L294.5,65.84 L295.35,63.92 L296.17,63.13 L297,62.51 L297.87,62.53 L298.74,62.7 L299.5,63.61 L300.26,65.04 L301,67.04 L301.71,69.48 L302.51,72.19 L303.3,75.37 L304.01,77.98 L304.71,80.33 L305.5,82.3 L306.14,83.79 L306.79,84.95 L307.56,85.81 L308.5,86.58 L309.11,86.97 L309.73,87.17 L310.39,87.28 L311.13,87.3 L311.95,87.3 L312.9,87.3 L314,87.3 L314.6,87.3 L315.28,87.3 L316.02,87.3 L316.83,87.3 L317.67,87.3 L318.53,87.3 L319.41,87.3 L320.28,87.3 L321.13,87.3 L321.94,87.3 L322.71,87.3 L323.42,87.3 L324.04,87.3 L324.57,87.3 L325,87.3 L343.8,87.3 Z" fill="#72ae95" stroke="none"/><path d="M243.6,87.3 L243.6,87.3 L243.6,87.3 L243.99,87.3 L244.42,87.3 L244.92,87.3 L245.45,87.3 L246.04,87.3 L246.66,87.3 L247.32,87.3 L248.02,87.3 L248.74,87.3 L249.5,87.3 L250.27,87.3 L251.07,87.3 L251.88,87.3 L252.71,87.3 L253.55,87.3 L254.39,87.3 L255.24,87.3 L256.09,87.3 L256.93,87.3 L257.77,87.3 L258.6,87.3 L259.41,87.3 L260.2,87.3 L260.98,87.3 L261.73,87.3 L262.45,87.3 L263.14,87.3 L263.8,87.3 L264.42,87.3 L265,87.3 L265.96,87.29 L266.86,87.28 L267.73,87.28 L268.55,87.28 L269.33,87.28 L270.08,87.28 L270.8,87.28 L271.48,87.27 L272.15,87.26 L272.79,87.25 L273.42,87.23 L274.03,87.2 L274.63,87.16 L275.22,87.12 L275.82,87.06 L276.41,86.98 L277,86.88 L277.91,86.73 L278.8,86.54 L279.65,86.33 L280.48,86.04 L281.28,85.77 L282.05,85.49 L282.78,85.22 L283.47,84.92 L284.12,84.62 L284.73,84.31 L285.3,83.92 L286.35,83.35 L287.15,82.97 L287.81,82.29 L288.39,81.55 L289,80.63 L289.77,79.54 L290.46,78.29 L291.13,76.2 L291.8,74.24 L292.71,71.46 L293.62,68.54 L294.5,65.84 L295.35,63.92 L296.17,63.13 L297,62.51 L297.87,62.53 L298.74,62.7 L299.5,63.61 L300.26,65.04 L301,67.04 L301.71,69.48 L302.51,72.19 L303.3,75.37 L304.01,77.98 L304.71,80.33 L305.5,82.3 L306.14,83.79 L306.79,84.95 L307.56,85.81 L308.5,86.58 L309.11,86.97 L309.73,87.17 L310.39,87.28 L311.13,87.3 L311.95,87.3 L312.9,87.3 L314,87.3 L314.6,87.3 L315.28,87.3 L316.02,87.3 L316.83,87.3 L317.67,87.3 L318.53,87.3 L319.41,87.3 L320.28,87.3 L321.13,87.3 L321.94,87.3 L322.71,87.3 L323.42,87.3 L324.04,87.3 L324.57,87.3 L325,87.3 L343.8,87.3" fill="none" stroke="#3a8a68" stroke-width="0.9" stroke-linejoin="round"/></g>
<g style="mix-blend-mode:multiply"><path d="M243.6,101.1 L243.6,101.1 L243.6,101.1 L244,101.1 L244.47,101.1 L245.01,101.1 L245.62,101.1 L246.28,101.1 L246.98,101.1 L247.73,101.1 L248.51,101.1 L249.31,101.1 L250.13,101.1 L250.96,101.1 L251.79,101.1 L252.62,101.1 L253.43,101.1 L254.23,101.1 L255,101.1 L255.67,101.08 L256.35,101.06 L257.04,101.04 L257.73,101.02 L258.43,101 L259.13,100.98 L259.83,100.96 L260.54,100.93 L261.25,100.9 L261.96,100.87 L262.68,100.83 L263.4,100.78 L264.11,100.74 L264.83,100.68 L265.55,100.62 L266.27,100.55 L266.99,100.48 L267.7,100.4 L268.42,100.31 L269.17,100.21 L269.93,100.11 L270.7,100 L271.47,99.91 L272.26,99.79 L273.04,99.67 L273.82,99.54 L274.59,99.4 L275.36,99.27 L276.11,99.03 L276.84,98.87 L277.56,98.72 L278.25,98.72 L278.91,98.57 L279.54,98.41 L280.14,98.06 L280.7,97.84 L281.72,97.54 L282.62,97.44 L283.42,97.09 L284.15,96.74 L284.8,96.32 L285.41,95.91 L285.99,95.47 L286.54,94.72 L287.1,94.03 L288.03,92.99 L288.82,91.74 L289.51,90.37 L290.16,89 L290.8,87.48 L291.57,85.97 L292.28,84.43 L292.95,83.17 L293.6,81.94 L294.44,80.92 L295.24,80.69 L296,79.82 L297.02,78.69 L298,77.47 L298.67,76.72 L299.35,76.29 L300.1,76.3 L300.99,76.86 L301.94,77.94 L302.8,79.37 L303.74,82.29 L304.7,85.52 L305.32,88.5 L305.99,90.71 L306.72,92.81 L307.5,94.2 L308.17,95.65 L308.87,96.84 L309.61,97.85 L310.39,98.76 L311.2,99.49 L311.86,100.07 L312.5,100.4 L313.16,100.65 L313.89,100.83 L314.76,100.98 L315.8,101.08 L316.38,101.1 L317.05,101.1 L317.8,101.1 L318.59,101.1 L319.42,101.1 L320.27,101.1 L321.11,101.1 L321.92,101.1 L322.7,101.1 L323.41,101.1 L324.05,101.1 L324.58,101.1 L325,101.1 L343.8,101.1 Z" fill="#d0cbe8" stroke="none"/><path d="M243.6,101.1 L243.6,101.1 L243.6,101.1 L244,101.1 L244.47,101.1 L245.01,101.1 L245.62,101.1 L246.28,101.1 L246.98,101.1 L247.73,101.1 L248.51,101.1 L249.31,101.1 L250.13,101.1 L250.96,101.1 L251.79,101.1 L252.62,101.1 L253.43,101.1 L254.23,101.1 L255,101.1 L255.67,101.08 L256.35,101.06 L257.04,101.04 L257.73,101.02 L258.43,101 L259.13,100.98 L259.83,100.96 L260.54,100.93 L261.25,100.9 L261.96,100.87 L262.68,100.83 L263.4,100.78 L264.11,100.74 L264.83,100.68 L265.55,100.62 L266.27,100.55 L266.99,100.48 L267.7,100.4 L268.42,100.31 L269.17,100.21 L269.93,100.11 L270.7,100 L271.47,99.91 L272.26,99.79 L273.04,99.67 L273.82,99.54 L274.59,99.4 L275.36,99.27 L276.11,99.03 L276.84,98.87 L277.56,98.72 L278.25,98.72 L278.91,98.57 L279.54,98.41 L280.14,98.06 L280.7,97.84 L281.72,97.54 L282.62,97.44 L283.42,97.09 L284.15,96.74 L284.8,96.32 L285.41,95.91 L285.99,95.47 L286.54,94.72 L287.1,94.03 L288.03,92.99 L288.82,91.74 L289.51,90.37 L290.16,89 L290.8,87.48 L291.57,85.97 L292.28,84.43 L292.95,83.17 L293.6,81.94 L294.44,80.92 L295.24,80.69 L296,79.82 L297.02,78.69 L298,77.47 L298.67,76.72 L299.35,76.29 L300.1,76.3 L300.99,76.86 L301.94,77.94 L302.8,79.37 L303.74,82.29 L304.7,85.52 L305.32,88.5 L305.99,90.71 L306.72,92.81 L307.5,94.2 L308.17,95.65 L308.87,96.84 L309.61,97.85 L310.39,98.76 L311.2,99.49 L311.86,100.07 L312.5,100.4 L313.16,100.65 L313.89,100.83 L314.76,100.98 L315.8,101.08 L316.38,101.1 L317.05,101.1 L317.8,101.1 L318.59,101.1 L319.42,101.1 L320.27,101.1 L321.11,101.1 L321.92,101.1 L322.7,101.1 L323.41,101.1 L324.05,101.1 L324.58,101.1 L325,101.1 L343.8,101.1" fill="none" stroke="#8c7fd0" stroke-width="0.9" stroke-linejoin="round"/></g>
<g style="mix-blend-mode:multiply"><path d="M243.6,116.1 L243.6,116.1 L243.6,116 L243.98,115.99 L244.42,115.98 L244.92,115.98 L245.46,115.97 L246.04,115.96 L246.67,115.96 L247.33,115.95 L248.03,115.94 L248.75,115.93 L249.51,115.92 L250.28,115.91 L251.08,115.9 L251.89,115.88 L252.71,115.86 L253.55,115.83 L254.38,115.81 L255.22,115.77 L256.05,115.74 L256.88,115.7 L257.7,115.65 L258.5,115.6 L259.15,115.56 L259.83,115.51 L260.53,115.46 L261.24,115.42 L261.97,115.37 L262.71,115.32 L263.47,115.27 L264.23,115.21 L265,115.16 L265.78,115.1 L266.55,114.99 L267.33,115.01 L268.11,114.95 L268.88,114.88 L269.64,114.81 L270.4,114.73 L271.14,114.65 L271.88,114.49 L272.59,114.4 L273.29,114.31 L273.97,114.3 L274.63,114.2 L275.26,114.1 L275.87,114.01 L276.45,113.89 L277,113.74 L278.03,113.36 L278.97,113.07 L279.85,112.76 L280.67,112.54 L281.43,112.21 L282.13,111.86 L282.79,111.35 L283.42,110.96 L284.01,110.56 L284.58,110.27 L285.13,109.86 L285.67,109.44 L286.2,108.62 L287.25,107.72 L288.14,106.62 L288.9,106.15 L289.57,105.03 L290.19,103.91 L290.8,102.28 L291.63,100.78 L292.31,99.16 L292.94,98.12 L293.6,96.42 L294.55,94.49 L295.5,91.97 L296.4,90.55 L297.25,89.77 L298.06,90.21 L298.8,90.16 L299.74,90.39 L300.6,91.53 L301.49,94.04 L302.4,97.55 L303.31,101.3 L304.3,104.95 L305.06,107.8 L305.89,110.1 L306.8,111.93 L307.56,113.17 L308.37,114 L309.2,114.67 L310,115.16 L310.55,115.54 L310.95,115.78 L311.62,115.91 L313,115.98 L313.49,116.02 L314.07,116.04 L314.73,116.05 L315.46,116.05 L316.24,116.06 L317.05,116.06 L317.9,116.06 L318.76,116.05 L319.62,116.05 L320.46,116.04 L321.29,116.03 L322.08,116.02 L322.81,116.02 L323.49,116.01 L324.08,116.01 L324.59,116 L325,116 L343.8,116.1 Z" fill="#c9ccd1" stroke="none"/><path d="M243.6,116.1 L243.6,116.1 L243.6,116 L243.98,115.99 L244.42,115.98 L244.92,115.98 L245.46,115.97 L246.04,115.96 L246.67,115.96 L247.33,115.95 L248.03,115.94 L248.75,115.93 L249.51,115.92 L250.28,115.91 L251.08,115.9 L251.89,115.88 L252.71,115.86 L253.55,115.83 L254.38,115.81 L255.22,115.77 L256.05,115.74 L256.88,115.7 L257.7,115.65 L258.5,115.6 L259.15,115.56 L259.83,115.51 L260.53,115.46 L261.24,115.42 L261.97,115.37 L262.71,115.32 L263.47,115.27 L264.23,115.21 L265,115.16 L265.78,115.1 L266.55,114.99 L267.33,115.01 L268.11,114.95 L268.88,114.88 L269.64,114.81 L270.4,114.73 L271.14,114.65 L271.88,114.49 L272.59,114.4 L273.29,114.31 L273.97,114.3 L274.63,114.2 L275.26,114.1 L275.87,114.01 L276.45,113.89 L277,113.74 L278.03,113.36 L278.97,113.07 L279.85,112.76 L280.67,112.54 L281.43,112.21 L282.13,111.86 L282.79,111.35 L283.42,110.96 L284.01,110.56 L284.58,110.27 L285.13,109.86 L285.67,109.44 L286.2,108.62 L287.25,107.72 L288.14,106.62 L288.9,106.15 L289.57,105.03 L290.19,103.91 L290.8,102.28 L291.63,100.78 L292.31,99.16 L292.94,98.12 L293.6,96.42 L294.55,94.49 L295.5,91.97 L296.4,90.55 L297.25,89.77 L298.06,90.21 L298.8,90.16 L299.74,90.39 L300.6,91.53 L301.49,94.04 L302.4,97.55 L303.31,101.3 L304.3,104.95 L305.06,107.8 L305.89,110.1 L306.8,111.93 L307.56,113.17 L308.37,114 L309.2,114.67 L310,115.16 L310.55,115.54 L310.95,115.78 L311.62,115.91 L313,115.98 L313.49,116.02 L314.07,116.04 L314.73,116.05 L315.46,116.05 L316.24,116.06 L317.05,116.06 L317.9,116.06 L318.76,116.05 L319.62,116.05 L320.46,116.04 L321.29,116.03 L322.08,116.02 L322.81,116.02 L323.49,116.01 L324.08,116.01 L324.59,116 L325,116 L343.8,116.1" fill="none" stroke="#5a606b" stroke-width="0.9" stroke-linejoin="round"/></g>
<g style="mix-blend-mode:multiply"><path d="M243.6,129.4 L276,129.4 L276,129.3 L276.46,129.06 L277.04,128.78 L277.74,128.47 L278.52,128.18 L279.36,127.81 L280.24,127.25 L281.14,126.79 L282.03,126.3 L282.88,125.99 L283.68,125.49 L284.4,124.93 L285.21,123.92 L285.99,123.12 L286.74,122.27 L287.47,121.54 L288.18,120.65 L288.87,119.76 L289.53,119.44 L290.17,118.62 L290.8,117.78 L291.68,116.9 L292.5,115.92 L293.26,115 L294,114.09 L294.74,113.23 L295.5,112.39 L296.29,110.96 L297.11,110.12 L297.93,109.3 L298.71,108.21 L299.44,107.51 L300.1,106.77 L301.14,106.38 L301.96,105.71 L302.8,105.7 L303.51,105.85 L304.25,107.13 L304.96,108.43 L305.6,109.07 L306.61,108.93 L307.5,109.3 L308.34,111.77 L309.3,114.8 L309.92,117.12 L310.62,119.47 L311.36,121.31 L312.1,123.1 L312.93,124.91 L313.83,126.62 L314.64,128.11 L315.2,129.3 L343.8,129.4 Z" fill="#d6ebf8" stroke="none"/><path d="M243.6,129.4 L276,129.4 L276,129.3 L276.46,129.06 L277.04,128.78 L277.74,128.47 L278.52,128.18 L279.36,127.81 L280.24,127.25 L281.14,126.79 L282.03,126.3 L282.88,125.99 L283.68,125.49 L284.4,124.93 L285.21,123.92 L285.99,123.12 L286.74,122.27 L287.47,121.54 L288.18,120.65 L288.87,119.76 L289.53,119.44 L290.17,118.62 L290.8,117.78 L291.68,116.9 L292.5,115.92 L293.26,115 L294,114.09 L294.74,113.23 L295.5,112.39 L296.29,110.96 L297.11,110.12 L297.93,109.3 L298.71,108.21 L299.44,107.51 L300.1,106.77 L301.14,106.38 L301.96,105.71 L302.8,105.7 L303.51,105.85 L304.25,107.13 L304.96,108.43 L305.6,109.07 L306.61,108.93 L307.5,109.3 L308.34,111.77 L309.3,114.8 L309.92,117.12 L310.62,119.47 L311.36,121.31 L312.1,123.1 L312.93,124.91 L313.83,126.62 L314.64,128.11 L315.2,129.3 L343.8,129.4" fill="none" stroke="#3cafe1" stroke-width="0.9" stroke-linejoin="round"/></g>
<line x1="243.6" y1="27.9" x2="343.8" y2="27.9" stroke="#333" stroke-width="1" />
<line x1="343.8" y1="27.9" x2="343.8" y2="129.4" stroke="#333" stroke-width="1" />
<line x1="243.6" y1="27.4" x2="243.6" y2="129.9" stroke="#222" stroke-width="1.3" />
<line x1="243" y1="129.4" x2="344.3" y2="129.4" stroke="#222" stroke-width="1.3" />
<line x1="244.1" y1="31" x2="244.1" y2="58.4" stroke="#cf3a5e" stroke-width="0.9"/>
<path d="M290,58.4 L343.8,58.4" fill="none" stroke="#cf3a5e" stroke-opacity="0.6" stroke-width="0.9"/>
<line x1="243.6" y1="129.4" x2="243.6" y2="132" stroke="#222" stroke-width="0.9" />
<line x1="249.63" y1="129.4" x2="249.63" y2="130.7" stroke="#333" stroke-width="0.6" />
<line x1="253.16" y1="129.4" x2="253.16" y2="130.7" stroke="#333" stroke-width="0.6" />
<line x1="255.67" y1="129.4" x2="255.67" y2="130.7" stroke="#333" stroke-width="0.6" />
<line x1="257.61" y1="129.4" x2="257.61" y2="130.7" stroke="#333" stroke-width="0.6" />
<line x1="259.19" y1="129.4" x2="259.19" y2="130.7" stroke="#333" stroke-width="0.6" />
<line x1="260.54" y1="129.4" x2="260.54" y2="130.7" stroke="#333" stroke-width="0.6" />
<line x1="261.7" y1="129.4" x2="261.7" y2="130.7" stroke="#333" stroke-width="0.6" />
<line x1="262.72" y1="129.4" x2="262.72" y2="130.7" stroke="#333" stroke-width="0.6" />
<text x="244.2" y="140.3" font-size="6.2" text-anchor="middle" fill="#333" textLength="5.9" lengthAdjust="spacingAndGlyphs"  stroke="#333" stroke-width="0.14">10</text>
<text x="248.5" y="137" font-size="4.1" text-anchor="middle" fill="#333"  stroke="#333" stroke-width="0.14">0</text>
<line x1="263.64" y1="129.4" x2="263.64" y2="132" stroke="#222" stroke-width="0.9" />
<line x1="269.67" y1="129.4" x2="269.67" y2="130.7" stroke="#333" stroke-width="0.6" />
<line x1="273.2" y1="129.4" x2="273.2" y2="130.7" stroke="#333" stroke-width="0.6" />
<line x1="275.71" y1="129.4" x2="275.71" y2="130.7" stroke="#333" stroke-width="0.6" />
<line x1="277.65" y1="129.4" x2="277.65" y2="130.7" stroke="#333" stroke-width="0.6" />
<line x1="279.23" y1="129.4" x2="279.23" y2="130.7" stroke="#333" stroke-width="0.6" />
<line x1="280.58" y1="129.4" x2="280.58" y2="130.7" stroke="#333" stroke-width="0.6" />
<line x1="281.74" y1="129.4" x2="281.74" y2="130.7" stroke="#333" stroke-width="0.6" />
<line x1="282.76" y1="129.4" x2="282.76" y2="130.7" stroke="#333" stroke-width="0.6" />
<text x="262.94" y="140.3" font-size="6.2" text-anchor="middle" fill="#333" textLength="5.9" lengthAdjust="spacingAndGlyphs"  stroke="#333" stroke-width="0.14">10</text>
<text x="267.24" y="137" font-size="4.1" text-anchor="middle" fill="#333"  stroke="#333" stroke-width="0.14">1</text>
<line x1="283.68" y1="129.4" x2="283.68" y2="132" stroke="#222" stroke-width="0.9" />
<line x1="289.71" y1="129.4" x2="289.71" y2="130.7" stroke="#333" stroke-width="0.6" />
<line x1="293.24" y1="129.4" x2="293.24" y2="130.7" stroke="#333" stroke-width="0.6" />
<line x1="295.75" y1="129.4" x2="295.75" y2="130.7" stroke="#333" stroke-width="0.6" />
<line x1="297.69" y1="129.4" x2="297.69" y2="130.7" stroke="#333" stroke-width="0.6" />
<line x1="299.27" y1="129.4" x2="299.27" y2="130.7" stroke="#333" stroke-width="0.6" />
<line x1="300.62" y1="129.4" x2="300.62" y2="130.7" stroke="#333" stroke-width="0.6" />
<line x1="301.78" y1="129.4" x2="301.78" y2="130.7" stroke="#333" stroke-width="0.6" />
<line x1="302.8" y1="129.4" x2="302.8" y2="130.7" stroke="#333" stroke-width="0.6" />
<text x="282.98" y="140.3" font-size="6.2" text-anchor="middle" fill="#333" textLength="5.9" lengthAdjust="spacingAndGlyphs"  stroke="#333" stroke-width="0.14">10</text>
<text x="287.28" y="137" font-size="4.1" text-anchor="middle" fill="#333"  stroke="#333" stroke-width="0.14">2</text>
<line x1="303.72" y1="129.4" x2="303.72" y2="132" stroke="#222" stroke-width="0.9" />
<line x1="309.75" y1="129.4" x2="309.75" y2="130.7" stroke="#333" stroke-width="0.6" />
<line x1="313.28" y1="129.4" x2="313.28" y2="130.7" stroke="#333" stroke-width="0.6" />
<line x1="315.79" y1="129.4" x2="315.79" y2="130.7" stroke="#333" stroke-width="0.6" />
<line x1="317.73" y1="129.4" x2="317.73" y2="130.7" stroke="#333" stroke-width="0.6" />
<line x1="319.31" y1="129.4" x2="319.31" y2="130.7" stroke="#333" stroke-width="0.6" />
<line x1="320.66" y1="129.4" x2="320.66" y2="130.7" stroke="#333" stroke-width="0.6" />
<line x1="321.82" y1="129.4" x2="321.82" y2="130.7" stroke="#333" stroke-width="0.6" />
<line x1="322.84" y1="129.4" x2="322.84" y2="130.7" stroke="#333" stroke-width="0.6" />
<text x="303.02" y="140.3" font-size="6.2" text-anchor="middle" fill="#333" textLength="5.9" lengthAdjust="spacingAndGlyphs"  stroke="#333" stroke-width="0.14">10</text>
<text x="307.32" y="137" font-size="4.1" text-anchor="middle" fill="#333"  stroke="#333" stroke-width="0.14">3</text>
<line x1="323.76" y1="129.4" x2="323.76" y2="132" stroke="#222" stroke-width="0.9" />
<line x1="329.79" y1="129.4" x2="329.79" y2="130.7" stroke="#333" stroke-width="0.6" />
<line x1="333.32" y1="129.4" x2="333.32" y2="130.7" stroke="#333" stroke-width="0.6" />
<line x1="335.83" y1="129.4" x2="335.83" y2="130.7" stroke="#333" stroke-width="0.6" />
<line x1="337.77" y1="129.4" x2="337.77" y2="130.7" stroke="#333" stroke-width="0.6" />
<line x1="339.35" y1="129.4" x2="339.35" y2="130.7" stroke="#333" stroke-width="0.6" />
<line x1="340.7" y1="129.4" x2="340.7" y2="130.7" stroke="#333" stroke-width="0.6" />
<line x1="341.86" y1="129.4" x2="341.86" y2="130.7" stroke="#333" stroke-width="0.6" />
<line x1="342.88" y1="129.4" x2="342.88" y2="130.7" stroke="#333" stroke-width="0.6" />
<text x="323.06" y="140.3" font-size="6.2" text-anchor="middle" fill="#333" textLength="5.9" lengthAdjust="spacingAndGlyphs"  stroke="#333" stroke-width="0.14">10</text>
<text x="327.36" y="137" font-size="4.1" text-anchor="middle" fill="#333"  stroke="#333" stroke-width="0.14">4</text>
<line x1="343.8" y1="129.4" x2="343.8" y2="132" stroke="#222" stroke-width="0.9" />
<text x="339.5" y="140.3" font-size="6.2" text-anchor="middle" fill="#333" textLength="5.9" lengthAdjust="spacingAndGlyphs"  stroke="#333" stroke-width="0.14">10</text>
<text x="343.8" y="137" font-size="4.1" text-anchor="middle" fill="#333"  stroke="#333" stroke-width="0.14">5</text>
<line x1="242.6" y1="143.9" x2="340.8" y2="143.9" stroke="#333" stroke-width="1.3" />
<path d="M339.8,141.3 L345.3,143.9 L339.8,146.5 Z" fill="#222"/>
<text x="277.1" y="155.6" font-size="9.0" text-anchor="start" fill="#1a1a1a" textLength="33.7" lengthAdjust="spacingAndGlyphs" stroke="#1a1a1a" stroke-width="0.25">HLA-DR/DQ</text>
<g style="mix-blend-mode:multiply"><path d="M403.6,58.6 L403.9,31.8 L404.1,56.73 L404.59,56.52 L405.26,56.26 L406.06,55.99 L406.93,55.66 L407.8,55.33 L408.56,55.26 L409.39,54.96 L410.25,54.65 L411.1,54.41 L411.9,54.11 L412.6,53.81 L413.44,53.59 L414.11,53.29 L414.76,52.94 L415.5,52.24 L416.22,51.7 L417,51.08 L417.8,50.06 L418.58,49.35 L419.3,48.62 L420.1,48.64 L420.84,47.8 L421.53,47.04 L422.2,46.28 L423.06,45.95 L423.86,45.73 L424.6,44.99 L425.58,43.47 L426.5,41.87 L427.42,40.74 L428.4,39.98 L429.18,38.96 L430.01,38 L430.8,36.88 L431.8,35.99 L432.8,34.58 L433.57,34.18 L434.39,34.01 L435.2,34.82 L435.98,35.81 L436.76,37.28 L437.6,39.22 L438.31,40.47 L439.08,41.62 L439.83,42.34 L440.5,44.15 L441.48,47 L442.4,50.26 L443.13,52.26 L443.91,53.75 L444.8,55.05 L445.15,56.09 L445.29,56.96 L446.03,57.65 L448.2,58.16 L448.64,58.36 L449.13,58.41 L449.68,58.45 L450.27,58.49 L450.91,58.53 L451.59,58.56 L452.31,58.58 L453.06,58.6 L453.84,58.6 L454.64,58.6 L455.46,58.6 L456.3,58.6 L457.15,58.6 L458.01,58.6 L458.88,58.6 L459.74,58.6 L460.61,58.6 L461.46,58.6 L462.3,58.6 L463.13,58.6 L463.93,58.6 L464.71,58.6 L465.47,58.6 L466.19,58.6 L466.87,58.6 L467.52,58.6 L468.12,58.6 L468.67,58.6 L469.17,58.6 L469.62,58.6 L470,58.6 L504.7,58.6 Z" fill="#e07088" stroke="none"/><path d="M403.6,58.6 L403.9,31.8 L404.1,56.73 L404.59,56.52 L405.26,56.26 L406.06,55.99 L406.93,55.66 L407.8,55.33 L408.56,55.26 L409.39,54.96 L410.25,54.65 L411.1,54.41 L411.9,54.11 L412.6,53.81 L413.44,53.59 L414.11,53.29 L414.76,52.94 L415.5,52.24 L416.22,51.7 L417,51.08 L417.8,50.06 L418.58,49.35 L419.3,48.62 L420.1,48.64 L420.84,47.8 L421.53,47.04 L422.2,46.28 L423.06,45.95 L423.86,45.73 L424.6,44.99 L425.58,43.47 L426.5,41.87 L427.42,40.74 L428.4,39.98 L429.18,38.96 L430.01,38 L430.8,36.88 L431.8,35.99 L432.8,34.58 L433.57,34.18 L434.39,34.01 L435.2,34.82 L435.98,35.81 L436.76,37.28 L437.6,39.22 L438.31,40.47 L439.08,41.62 L439.83,42.34 L440.5,44.15 L441.48,47 L442.4,50.26 L443.13,52.26 L443.91,53.75 L444.8,55.05 L445.15,56.09 L445.29,56.96 L446.03,57.65 L448.2,58.16 L448.64,58.36 L449.13,58.41 L449.68,58.45 L450.27,58.49 L450.91,58.53 L451.59,58.56 L452.31,58.58 L453.06,58.6 L453.84,58.6 L454.64,58.6 L455.46,58.6 L456.3,58.6 L457.15,58.6 L458.01,58.6 L458.88,58.6 L459.74,58.6 L460.61,58.6 L461.46,58.6 L462.3,58.6 L463.13,58.6 L463.93,58.6 L464.71,58.6 L465.47,58.6 L466.19,58.6 L466.87,58.6 L467.52,58.6 L468.12,58.6 L468.67,58.6 L469.17,58.6 L469.62,58.6 L470,58.6 L504.7,58.6" fill="none" stroke="#cf3a5e" stroke-width="0.9" stroke-linejoin="round"/></g>
<g style="mix-blend-mode:multiply"><path d="M403.6,72.9 L403.6,72.9 L403.6,72.8 L403.98,72.79 L404.41,72.78 L404.89,72.76 L405.4,72.75 L405.96,72.74 L406.56,72.72 L407.19,72.71 L407.86,72.69 L408.55,72.67 L409.27,72.66 L410.02,72.64 L410.79,72.62 L411.58,72.6 L412.39,72.58 L413.21,72.56 L414.05,72.54 L414.89,72.52 L415.75,72.5 L416.6,72.48 L417.46,72.45 L418.33,72.43 L419.18,72.41 L420.03,72.38 L420.88,72.36 L421.71,72.33 L422.54,72.31 L423.34,72.28 L424.13,72.25 L424.9,72.23 L425.64,72.2 L426.36,72.17 L427.05,72.14 L427.71,72.12 L428.34,72.09 L428.93,72.06 L429.49,72.03 L430,71.99 L431.23,71.92 L432.33,71.88 L433.3,71.8 L434.17,71.72 L434.95,71.69 L435.65,71.62 L436.29,71.53 L436.87,71.17 L437.41,71.06 L437.93,70.94 L438.43,70.88 L438.94,70.75 L439.45,70.6 L440,70.57 L440.93,70.31 L441.77,70 L442.54,69.43 L443.24,69.04 L443.9,68.64 L444.53,68.39 L445.16,67.98 L445.8,67.53 L446.65,67.7 L447.47,67.2 L448.25,66.68 L449,65.98 L449.72,65.42 L450.4,64.77 L451.33,62.77 L452.17,61.76 L452.97,60.74 L453.8,59.25 L454.5,58.39 L455.22,57.59 L455.94,58.37 L456.64,57.54 L457.3,56.6 L458.08,55.58 L458.82,54.34 L459.53,53.19 L460.2,51.85 L461.03,51.3 L461.8,50.99 L462.5,49.69 L463.38,48.47 L464.2,47.54 L465.11,48.95 L466,49.29 L466.78,49.1 L467.5,49.14 L468.8,50.72 L469.81,51.7 L470.9,51.79 L471.85,53.12 L472.9,54.72 L473.56,56.2 L474.3,57.18 L475.06,58.2 L475.8,58.36 L476.5,59.48 L477.2,60.64 L477.9,61.68 L478.6,62.85 L479.29,64.01 L479.97,65.14 L480.69,66.23 L481.5,67.27 L482.24,68.86 L483.06,69.67 L483.91,70.46 L484.77,71.07 L485.6,71.67 L486.3,72.1 L486.9,72.41 L487.54,72.63 L488.39,72.78 L489.6,72.88 L490.17,72.9 L490.84,72.9 L491.59,72.9 L492.41,72.9 L493.27,72.9 L494.16,72.9 L495.05,72.9 L495.93,72.9 L496.79,72.9 L497.6,72.9 L498.34,72.9 L499,72.9 L499.56,72.9 L500,72.9 L504.7,72.9 Z" fill="#6592ba" stroke="none"/><path d="M403.6,72.9 L403.6,72.9 L403.6,72.8 L403.98,72.79 L404.41,72.78 L404.89,72.76 L405.4,72.75 L405.96,72.74 L406.56,72.72 L407.19,72.71 L407.86,72.69 L408.55,72.67 L409.27,72.66 L410.02,72.64 L410.79,72.62 L411.58,72.6 L412.39,72.58 L413.21,72.56 L414.05,72.54 L414.89,72.52 L415.75,72.5 L416.6,72.48 L417.46,72.45 L418.33,72.43 L419.18,72.41 L420.03,72.38 L420.88,72.36 L421.71,72.33 L422.54,72.31 L423.34,72.28 L424.13,72.25 L424.9,72.23 L425.64,72.2 L426.36,72.17 L427.05,72.14 L427.71,72.12 L428.34,72.09 L428.93,72.06 L429.49,72.03 L430,71.99 L431.23,71.92 L432.33,71.88 L433.3,71.8 L434.17,71.72 L434.95,71.69 L435.65,71.62 L436.29,71.53 L436.87,71.17 L437.41,71.06 L437.93,70.94 L438.43,70.88 L438.94,70.75 L439.45,70.6 L440,70.57 L440.93,70.31 L441.77,70 L442.54,69.43 L443.24,69.04 L443.9,68.64 L444.53,68.39 L445.16,67.98 L445.8,67.53 L446.65,67.7 L447.47,67.2 L448.25,66.68 L449,65.98 L449.72,65.42 L450.4,64.77 L451.33,62.77 L452.17,61.76 L452.97,60.74 L453.8,59.25 L454.5,58.39 L455.22,57.59 L455.94,58.37 L456.64,57.54 L457.3,56.6 L458.08,55.58 L458.82,54.34 L459.53,53.19 L460.2,51.85 L461.03,51.3 L461.8,50.99 L462.5,49.69 L463.38,48.47 L464.2,47.54 L465.11,48.95 L466,49.29 L466.78,49.1 L467.5,49.14 L468.8,50.72 L469.81,51.7 L470.9,51.79 L471.85,53.12 L472.9,54.72 L473.56,56.2 L474.3,57.18 L475.06,58.2 L475.8,58.36 L476.5,59.48 L477.2,60.64 L477.9,61.68 L478.6,62.85 L479.29,64.01 L479.97,65.14 L480.69,66.23 L481.5,67.27 L482.24,68.86 L483.06,69.67 L483.91,70.46 L484.77,71.07 L485.6,71.67 L486.3,72.1 L486.9,72.41 L487.54,72.63 L488.39,72.78 L489.6,72.88 L490.17,72.9 L490.84,72.9 L491.59,72.9 L492.41,72.9 L493.27,72.9 L494.16,72.9 L495.05,72.9 L495.93,72.9 L496.79,72.9 L497.6,72.9 L498.34,72.9 L499,72.9 L499.56,72.9 L500,72.9 L504.7,72.9" fill="none" stroke="#2f6a9a" stroke-width="0.9" stroke-linejoin="round"/></g>
<g style="mix-blend-mode:multiply"><path d="M403.6,86.9 L403.6,86.9 L403.6,86.9 L403.98,86.89 L404.41,86.88 L404.87,86.88 L405.39,86.88 L405.94,86.87 L406.52,86.87 L407.14,86.87 L407.79,86.87 L408.48,86.87 L409.19,86.87 L409.92,86.87 L410.67,86.87 L411.45,86.87 L412.24,86.86 L413.05,86.86 L413.87,86.86 L414.7,86.85 L415.54,86.84 L416.38,86.83 L417.23,86.82 L418.07,86.81 L418.92,86.79 L419.76,86.78 L420.59,86.75 L421.42,86.73 L422.23,86.7 L423.03,86.67 L423.81,86.64 L424.58,86.6 L425.32,86.56 L426.04,86.51 L426.73,86.46 L427.4,86.4 L428.03,86.34 L428.63,86.27 L429.2,86.18 L430.21,86.05 L431.18,85.84 L432.1,85.64 L432.98,85.44 L433.81,85.23 L434.62,85.21 L435.39,85 L436.13,84.78 L436.84,84.55 L437.52,84.31 L438.18,84.07 L438.83,83.33 L439.45,83.02 L440.06,82.71 L440.66,82.58 L441.25,82.27 L441.84,81.95 L442.42,81.64 L443,81.25 L443.98,80.69 L444.93,80.47 L445.83,79.79 L446.69,79.08 L447.5,77.45 L448.26,76.65 L448.98,75.89 L449.64,75.03 L450.25,74.4 L450.8,73.84 L451.3,74.25 L452.57,73.45 L453.3,72.66 L453.96,71.64 L454.72,70.7 L455.55,69.66 L456.42,68.77 L457.3,67.86 L458.04,67.1 L458.81,66.59 L459.6,65.93 L460.4,65.32 L461.2,65.4 L462,64.92 L462.81,64.51 L463.65,63.16 L464.49,62.87 L465.31,62.65 L466.09,63.26 L466.8,63.18 L467.68,63.2 L468.41,62.75 L469.14,63.08 L470,63.56 L470.71,64.41 L471.52,65.04 L472.37,65.76 L473.2,65.4 L473.96,66.17 L474.6,67.23 L475.67,68.75 L476.7,70.69 L477.3,72.15 L477.99,75.36 L478.75,76.71 L479.53,78.03 L480.29,78.81 L481,79.89 L481.78,80.89 L482.52,81.51 L483.25,82.34 L483.97,83.09 L484.7,84.14 L485.31,84.72 L485.8,85.25 L486.35,85.57 L487.15,86.02 L488.4,86.33 L488.93,86.49 L489.55,86.56 L490.25,86.63 L491.02,86.68 L491.83,86.73 L492.68,86.76 L493.55,86.79 L494.43,86.81 L495.3,86.83 L496.15,86.84 L496.97,86.85 L497.73,86.86 L498.43,86.87 L499.05,86.88 L499.58,86.89 L500,86.9 L504.7,86.9 Z" fill="#72ae95" stroke="none"/><path d="M403.6,86.9 L403.6,86.9 L403.6,86.9 L403.98,86.89 L404.41,86.88 L404.87,86.88 L405.39,86.88 L405.94,86.87 L406.52,86.87 L407.14,86.87 L407.79,86.87 L408.48,86.87 L409.19,86.87 L409.92,86.87 L410.67,86.87 L411.45,86.87 L412.24,86.86 L413.05,86.86 L413.87,86.86 L414.7,86.85 L415.54,86.84 L416.38,86.83 L417.23,86.82 L418.07,86.81 L418.92,86.79 L419.76,86.78 L420.59,86.75 L421.42,86.73 L422.23,86.7 L423.03,86.67 L423.81,86.64 L424.58,86.6 L425.32,86.56 L426.04,86.51 L426.73,86.46 L427.4,86.4 L428.03,86.34 L428.63,86.27 L429.2,86.18 L430.21,86.05 L431.18,85.84 L432.1,85.64 L432.98,85.44 L433.81,85.23 L434.62,85.21 L435.39,85 L436.13,84.78 L436.84,84.55 L437.52,84.31 L438.18,84.07 L438.83,83.33 L439.45,83.02 L440.06,82.71 L440.66,82.58 L441.25,82.27 L441.84,81.95 L442.42,81.64 L443,81.25 L443.98,80.69 L444.93,80.47 L445.83,79.79 L446.69,79.08 L447.5,77.45 L448.26,76.65 L448.98,75.89 L449.64,75.03 L450.25,74.4 L450.8,73.84 L451.3,74.25 L452.57,73.45 L453.3,72.66 L453.96,71.64 L454.72,70.7 L455.55,69.66 L456.42,68.77 L457.3,67.86 L458.04,67.1 L458.81,66.59 L459.6,65.93 L460.4,65.32 L461.2,65.4 L462,64.92 L462.81,64.51 L463.65,63.16 L464.49,62.87 L465.31,62.65 L466.09,63.26 L466.8,63.18 L467.68,63.2 L468.41,62.75 L469.14,63.08 L470,63.56 L470.71,64.41 L471.52,65.04 L472.37,65.76 L473.2,65.4 L473.96,66.17 L474.6,67.23 L475.67,68.75 L476.7,70.69 L477.3,72.15 L477.99,75.36 L478.75,76.71 L479.53,78.03 L480.29,78.81 L481,79.89 L481.78,80.89 L482.52,81.51 L483.25,82.34 L483.97,83.09 L484.7,84.14 L485.31,84.72 L485.8,85.25 L486.35,85.57 L487.15,86.02 L488.4,86.33 L488.93,86.49 L489.55,86.56 L490.25,86.63 L491.02,86.68 L491.83,86.73 L492.68,86.76 L493.55,86.79 L494.43,86.81 L495.3,86.83 L496.15,86.84 L496.97,86.85 L497.73,86.86 L498.43,86.87 L499.05,86.88 L499.58,86.89 L500,86.9 L504.7,86.9" fill="none" stroke="#3a8a68" stroke-width="0.9" stroke-linejoin="round"/></g>
<g style="mix-blend-mode:multiply"><path d="M403.6,101.9 L403.6,101.9 L403.6,101.9 L403.98,101.9 L404.39,101.9 L404.84,101.9 L405.32,101.9 L405.84,101.9 L406.39,101.89 L406.97,101.89 L407.57,101.89 L408.21,101.89 L408.87,101.89 L409.55,101.89 L410.26,101.89 L410.99,101.89 L411.73,101.89 L412.5,101.88 L413.28,101.88 L414.08,101.88 L414.89,101.88 L415.72,101.88 L416.56,101.88 L417.4,101.88 L418.26,101.87 L419.12,101.87 L419.98,101.87 L420.85,101.87 L421.72,101.87 L422.6,101.87 L423.47,101.86 L424.34,101.86 L425.21,101.86 L426.07,101.86 L426.92,101.86 L427.77,101.85 L428.61,101.85 L429.43,101.85 L430.25,101.85 L431.05,101.84 L431.84,101.84 L432.6,101.84 L433.36,101.84 L434.09,101.83 L434.8,101.83 L435.48,101.83 L436.15,101.82 L436.79,101.82 L437.4,101.82 L437.98,101.81 L438.53,101.81 L439.06,101.81 L439.55,101.8 L440,101.8 L441.81,101.78 L443.23,101.77 L444.32,101.76 L445.14,101.75 L445.74,101.73 L446.19,101.71 L446.54,101.69 L446.86,101.66 L447.21,101.62 L447.63,101.56 L448.2,101.49 L448.99,101.41 L449.77,101.31 L450.51,101.21 L451.24,101.09 L451.94,100.96 L452.62,100.69 L453.27,100.69 L453.9,100.5 L454.5,100.24 L455.35,99.74 L456.13,99.3 L456.85,98.79 L457.53,98.06 L458.18,97.39 L458.8,96.5 L459.68,96.05 L460.49,94.67 L461.22,93.25 L461.9,91.81 L462.65,90.34 L463.29,88.92 L464,87.59 L464.86,86.18 L465.79,84.77 L466.7,82.69 L467.56,81.36 L468.41,80.12 L469.3,77.94 L470.05,77.2 L470.85,76.64 L471.63,77.46 L472.3,77.42 L473.29,77.97 L474.1,79.06 L474.91,80.72 L475.7,82.66 L476.44,84.14 L477.3,86.08 L478.07,87.69 L478.95,90.28 L479.9,91.62 L480.65,92.75 L481.43,93.21 L482.25,94.27 L483.1,95.28 L483.79,96.7 L484.49,97.53 L485.22,98.34 L485.98,98.67 L486.8,99.4 L487.49,99.96 L488.19,100.61 L488.91,100.96 L489.69,101.21 L490.58,101.47 L491.6,101.67 L492.26,101.78 L493.02,101.85 L493.86,101.89 L494.74,101.9 L495.65,101.9 L496.55,101.9 L497.41,101.9 L498.22,101.9 L498.94,101.9 L499.54,101.9 L500,101.9 L504.7,101.9 Z" fill="#d0cbe8" stroke="none"/><path d="M403.6,101.9 L403.6,101.9 L403.6,101.9 L403.98,101.9 L404.39,101.9 L404.84,101.9 L405.32,101.9 L405.84,101.9 L406.39,101.89 L406.97,101.89 L407.57,101.89 L408.21,101.89 L408.87,101.89 L409.55,101.89 L410.26,101.89 L410.99,101.89 L411.73,101.89 L412.5,101.88 L413.28,101.88 L414.08,101.88 L414.89,101.88 L415.72,101.88 L416.56,101.88 L417.4,101.88 L418.26,101.87 L419.12,101.87 L419.98,101.87 L420.85,101.87 L421.72,101.87 L422.6,101.87 L423.47,101.86 L424.34,101.86 L425.21,101.86 L426.07,101.86 L426.92,101.86 L427.77,101.85 L428.61,101.85 L429.43,101.85 L430.25,101.85 L431.05,101.84 L431.84,101.84 L432.6,101.84 L433.36,101.84 L434.09,101.83 L434.8,101.83 L435.48,101.83 L436.15,101.82 L436.79,101.82 L437.4,101.82 L437.98,101.81 L438.53,101.81 L439.06,101.81 L439.55,101.8 L440,101.8 L441.81,101.78 L443.23,101.77 L444.32,101.76 L445.14,101.75 L445.74,101.73 L446.19,101.71 L446.54,101.69 L446.86,101.66 L447.21,101.62 L447.63,101.56 L448.2,101.49 L448.99,101.41 L449.77,101.31 L450.51,101.21 L451.24,101.09 L451.94,100.96 L452.62,100.69 L453.27,100.69 L453.9,100.5 L454.5,100.24 L455.35,99.74 L456.13,99.3 L456.85,98.79 L457.53,98.06 L458.18,97.39 L458.8,96.5 L459.68,96.05 L460.49,94.67 L461.22,93.25 L461.9,91.81 L462.65,90.34 L463.29,88.92 L464,87.59 L464.86,86.18 L465.79,84.77 L466.7,82.69 L467.56,81.36 L468.41,80.12 L469.3,77.94 L470.05,77.2 L470.85,76.64 L471.63,77.46 L472.3,77.42 L473.29,77.97 L474.1,79.06 L474.91,80.72 L475.7,82.66 L476.44,84.14 L477.3,86.08 L478.07,87.69 L478.95,90.28 L479.9,91.62 L480.65,92.75 L481.43,93.21 L482.25,94.27 L483.1,95.28 L483.79,96.7 L484.49,97.53 L485.22,98.34 L485.98,98.67 L486.8,99.4 L487.49,99.96 L488.19,100.61 L488.91,100.96 L489.69,101.21 L490.58,101.47 L491.6,101.67 L492.26,101.78 L493.02,101.85 L493.86,101.89 L494.74,101.9 L495.65,101.9 L496.55,101.9 L497.41,101.9 L498.22,101.9 L498.94,101.9 L499.54,101.9 L500,101.9 L504.7,101.9" fill="none" stroke="#8c7fd0" stroke-width="0.9" stroke-linejoin="round"/></g>
<g style="mix-blend-mode:multiply"><path d="M403.6,116 L403.6,116 L403.6,115.8 L403.99,115.79 L404.44,115.78 L404.94,115.77 L405.49,115.77 L406.09,115.76 L406.73,115.75 L407.42,115.74 L408.13,115.73 L408.88,115.72 L409.64,115.71 L410.44,115.69 L411.24,115.68 L412.06,115.66 L412.89,115.65 L413.72,115.63 L414.55,115.61 L415.38,115.59 L416.2,115.56 L417,115.53 L417.79,115.5 L418.55,115.47 L419.29,115.44 L420,115.4 L420.76,115.36 L421.53,115.31 L422.3,115.27 L423.08,115.23 L423.86,115.18 L424.64,115.13 L425.42,115.08 L426.2,115.03 L426.97,114.89 L427.74,114.95 L428.5,114.9 L429.26,114.83 L430,114.82 L430.73,114.75 L431.45,114.68 L432.16,114.38 L432.84,114.29 L433.51,114.19 L434.16,114.04 L434.79,113.92 L435.4,113.77 L436.35,113.8 L437.27,113.56 L438.16,113.29 L439.03,113.21 L439.86,112.93 L440.65,112.64 L441.4,111.66 L442.12,111.32 L442.79,110.99 L443.42,111.02 L443.99,110.76 L444.52,110.53 L445,110.2 L446.1,109.98 L446.36,109.77 L447.1,109.51 L447.64,109.09 L448.3,108.63 L449.04,109.12 L449.83,108.61 L450.65,108.08 L451.45,107.34 L452.22,106.79 L452.91,106.22 L453.5,105.45 L454.5,104.49 L455.24,103.41 L455.88,101.76 L456.6,100.79 L457.43,99.91 L458.28,99.95 L459.14,99.18 L460,98.48 L460.72,96.83 L461.48,96.31 L462.23,95.8 L462.92,94.61 L463.5,93.79 L464.26,92.55 L465.1,92.7 L465.76,92.79 L466.56,93.42 L467.45,95.18 L468.38,96.09 L469.3,96.94 L470.09,96.53 L470.94,97.23 L471.8,97.94 L472.64,99.84 L473.42,100.58 L474.1,101.52 L475.11,102.79 L475.87,104.37 L476.7,105.83 L477.41,105.78 L478.13,106.91 L478.94,108 L479.9,108.86 L480.55,109.5 L481.26,109.99 L482.02,110.8 L482.82,111.22 L483.62,111.62 L484.42,111.86 L485.2,112.28 L485.92,112.7 L486.59,113.19 L487.25,113.61 L487.93,114.01 L488.68,114.46 L489.52,114.78 L490.5,115.03 L491.12,115.13 L491.83,115.25 L492.6,115.36 L493.42,115.46 L494.28,115.55 L495.15,115.63 L496.01,115.7 L496.85,115.76 L497.64,115.82 L498.37,115.87 L499.02,115.92 L499.57,115.96 L500,116 L504.7,116 Z" fill="#c9ccd1" stroke="none"/><path d="M403.6,116 L403.6,116 L403.6,115.8 L403.99,115.79 L404.44,115.78 L404.94,115.77 L405.49,115.77 L406.09,115.76 L406.73,115.75 L407.42,115.74 L408.13,115.73 L408.88,115.72 L409.64,115.71 L410.44,115.69 L411.24,115.68 L412.06,115.66 L412.89,115.65 L413.72,115.63 L414.55,115.61 L415.38,115.59 L416.2,115.56 L417,115.53 L417.79,115.5 L418.55,115.47 L419.29,115.44 L420,115.4 L420.76,115.36 L421.53,115.31 L422.3,115.27 L423.08,115.23 L423.86,115.18 L424.64,115.13 L425.42,115.08 L426.2,115.03 L426.97,114.89 L427.74,114.95 L428.5,114.9 L429.26,114.83 L430,114.82 L430.73,114.75 L431.45,114.68 L432.16,114.38 L432.84,114.29 L433.51,114.19 L434.16,114.04 L434.79,113.92 L435.4,113.77 L436.35,113.8 L437.27,113.56 L438.16,113.29 L439.03,113.21 L439.86,112.93 L440.65,112.64 L441.4,111.66 L442.12,111.32 L442.79,110.99 L443.42,111.02 L443.99,110.76 L444.52,110.53 L445,110.2 L446.1,109.98 L446.36,109.77 L447.1,109.51 L447.64,109.09 L448.3,108.63 L449.04,109.12 L449.83,108.61 L450.65,108.08 L451.45,107.34 L452.22,106.79 L452.91,106.22 L453.5,105.45 L454.5,104.49 L455.24,103.41 L455.88,101.76 L456.6,100.79 L457.43,99.91 L458.28,99.95 L459.14,99.18 L460,98.48 L460.72,96.83 L461.48,96.31 L462.23,95.8 L462.92,94.61 L463.5,93.79 L464.26,92.55 L465.1,92.7 L465.76,92.79 L466.56,93.42 L467.45,95.18 L468.38,96.09 L469.3,96.94 L470.09,96.53 L470.94,97.23 L471.8,97.94 L472.64,99.84 L473.42,100.58 L474.1,101.52 L475.11,102.79 L475.87,104.37 L476.7,105.83 L477.41,105.78 L478.13,106.91 L478.94,108 L479.9,108.86 L480.55,109.5 L481.26,109.99 L482.02,110.8 L482.82,111.22 L483.62,111.62 L484.42,111.86 L485.2,112.28 L485.92,112.7 L486.59,113.19 L487.25,113.61 L487.93,114.01 L488.68,114.46 L489.52,114.78 L490.5,115.03 L491.12,115.13 L491.83,115.25 L492.6,115.36 L493.42,115.46 L494.28,115.55 L495.15,115.63 L496.01,115.7 L496.85,115.76 L497.64,115.82 L498.37,115.87 L499.02,115.92 L499.57,115.96 L500,116 L504.7,116" fill="none" stroke="#5a606b" stroke-width="0.9" stroke-linejoin="round"/></g>
<g style="mix-blend-mode:multiply"><path d="M403.6,129.4 L449.2,129.4 L449.2,129.3 L449.64,129.09 L450.21,128.86 L450.9,128.58 L451.67,128.23 L452.48,127.87 L453.31,127.55 L454.13,127.13 L454.9,126.66 L455.6,125.79 L456.43,125.02 L457.26,124.09 L458.06,123.71 L458.84,122.76 L459.58,121.81 L460.27,120.36 L460.9,119.3 L461.85,118.06 L462.64,117.55 L463.34,116.25 L464,114.76 L464.82,112.25 L465.54,110.28 L466.2,108.65 L467.01,108 L467.8,107.42 L468.87,107.1 L469.9,106.66 L471.2,106.43 L472.01,107.49 L473,108.58 L473.84,110.53 L474.77,112.31 L475.7,113.22 L476.61,113.86 L477.51,114.15 L478.3,116.48 L479.06,118.55 L479.9,120.82 L480.55,121.34 L481.3,122.47 L482.15,123.57 L483.1,124.54 L483.86,125.46 L484.76,126.34 L485.7,127.38 L486.6,128.14 L487.36,128.79 L487.9,129.3 L504.7,129.4 Z" fill="#d6ebf8" stroke="none"/><path d="M403.6,129.4 L449.2,129.4 L449.2,129.3 L449.64,129.09 L450.21,128.86 L450.9,128.58 L451.67,128.23 L452.48,127.87 L453.31,127.55 L454.13,127.13 L454.9,126.66 L455.6,125.79 L456.43,125.02 L457.26,124.09 L458.06,123.71 L458.84,122.76 L459.58,121.81 L460.27,120.36 L460.9,119.3 L461.85,118.06 L462.64,117.55 L463.34,116.25 L464,114.76 L464.82,112.25 L465.54,110.28 L466.2,108.65 L467.01,108 L467.8,107.42 L468.87,107.1 L469.9,106.66 L471.2,106.43 L472.01,107.49 L473,108.58 L473.84,110.53 L474.77,112.31 L475.7,113.22 L476.61,113.86 L477.51,114.15 L478.3,116.48 L479.06,118.55 L479.9,120.82 L480.55,121.34 L481.3,122.47 L482.15,123.57 L483.1,124.54 L483.86,125.46 L484.76,126.34 L485.7,127.38 L486.6,128.14 L487.36,128.79 L487.9,129.3 L504.7,129.4" fill="none" stroke="#3cafe1" stroke-width="0.9" stroke-linejoin="round"/></g>
<line x1="403.6" y1="28" x2="504.7" y2="28" stroke="#333" stroke-width="1" />
<line x1="504.7" y1="28" x2="504.7" y2="129.4" stroke="#333" stroke-width="1" />
<line x1="403.6" y1="27.5" x2="403.6" y2="129.9" stroke="#222" stroke-width="1.3" />
<line x1="403" y1="129.4" x2="505.2" y2="129.4" stroke="#222" stroke-width="1.3" />
<line x1="404.1" y1="31.8" x2="404.1" y2="58.6" stroke="#cf3a5e" stroke-width="0.9"/>
<path d="M470,58.6 L504.7,58.6" fill="none" stroke="#cf3a5e" stroke-opacity="0.6" stroke-width="0.9"/>
<line x1="403.6" y1="129.4" x2="403.6" y2="132" stroke="#222" stroke-width="0.9" />
<line x1="409.69" y1="129.4" x2="409.69" y2="130.7" stroke="#333" stroke-width="0.6" />
<line x1="413.25" y1="129.4" x2="413.25" y2="130.7" stroke="#333" stroke-width="0.6" />
<line x1="415.77" y1="129.4" x2="415.77" y2="130.7" stroke="#333" stroke-width="0.6" />
<line x1="417.73" y1="129.4" x2="417.73" y2="130.7" stroke="#333" stroke-width="0.6" />
<line x1="419.33" y1="129.4" x2="419.33" y2="130.7" stroke="#333" stroke-width="0.6" />
<line x1="420.69" y1="129.4" x2="420.69" y2="130.7" stroke="#333" stroke-width="0.6" />
<line x1="421.86" y1="129.4" x2="421.86" y2="130.7" stroke="#333" stroke-width="0.6" />
<line x1="422.89" y1="129.4" x2="422.89" y2="130.7" stroke="#333" stroke-width="0.6" />
<text x="404.2" y="140.3" font-size="6.2" text-anchor="middle" fill="#333" textLength="5.9" lengthAdjust="spacingAndGlyphs"  stroke="#333" stroke-width="0.14">10</text>
<text x="408.5" y="137" font-size="4.1" text-anchor="middle" fill="#333"  stroke="#333" stroke-width="0.14">0</text>
<line x1="423.82" y1="129.4" x2="423.82" y2="132" stroke="#222" stroke-width="0.9" />
<line x1="429.91" y1="129.4" x2="429.91" y2="130.7" stroke="#333" stroke-width="0.6" />
<line x1="433.47" y1="129.4" x2="433.47" y2="130.7" stroke="#333" stroke-width="0.6" />
<line x1="435.99" y1="129.4" x2="435.99" y2="130.7" stroke="#333" stroke-width="0.6" />
<line x1="437.95" y1="129.4" x2="437.95" y2="130.7" stroke="#333" stroke-width="0.6" />
<line x1="439.55" y1="129.4" x2="439.55" y2="130.7" stroke="#333" stroke-width="0.6" />
<line x1="440.91" y1="129.4" x2="440.91" y2="130.7" stroke="#333" stroke-width="0.6" />
<line x1="442.08" y1="129.4" x2="442.08" y2="130.7" stroke="#333" stroke-width="0.6" />
<line x1="443.11" y1="129.4" x2="443.11" y2="130.7" stroke="#333" stroke-width="0.6" />
<text x="423.12" y="140.3" font-size="6.2" text-anchor="middle" fill="#333" textLength="5.9" lengthAdjust="spacingAndGlyphs"  stroke="#333" stroke-width="0.14">10</text>
<text x="427.42" y="137" font-size="4.1" text-anchor="middle" fill="#333"  stroke="#333" stroke-width="0.14">1</text>
<line x1="444.04" y1="129.4" x2="444.04" y2="132" stroke="#222" stroke-width="0.9" />
<line x1="450.13" y1="129.4" x2="450.13" y2="130.7" stroke="#333" stroke-width="0.6" />
<line x1="453.69" y1="129.4" x2="453.69" y2="130.7" stroke="#333" stroke-width="0.6" />
<line x1="456.21" y1="129.4" x2="456.21" y2="130.7" stroke="#333" stroke-width="0.6" />
<line x1="458.17" y1="129.4" x2="458.17" y2="130.7" stroke="#333" stroke-width="0.6" />
<line x1="459.77" y1="129.4" x2="459.77" y2="130.7" stroke="#333" stroke-width="0.6" />
<line x1="461.13" y1="129.4" x2="461.13" y2="130.7" stroke="#333" stroke-width="0.6" />
<line x1="462.3" y1="129.4" x2="462.3" y2="130.7" stroke="#333" stroke-width="0.6" />
<line x1="463.33" y1="129.4" x2="463.33" y2="130.7" stroke="#333" stroke-width="0.6" />
<text x="443.34" y="140.3" font-size="6.2" text-anchor="middle" fill="#333" textLength="5.9" lengthAdjust="spacingAndGlyphs"  stroke="#333" stroke-width="0.14">10</text>
<text x="447.64" y="137" font-size="4.1" text-anchor="middle" fill="#333"  stroke="#333" stroke-width="0.14">2</text>
<line x1="464.26" y1="129.4" x2="464.26" y2="132" stroke="#222" stroke-width="0.9" />
<line x1="470.35" y1="129.4" x2="470.35" y2="130.7" stroke="#333" stroke-width="0.6" />
<line x1="473.91" y1="129.4" x2="473.91" y2="130.7" stroke="#333" stroke-width="0.6" />
<line x1="476.43" y1="129.4" x2="476.43" y2="130.7" stroke="#333" stroke-width="0.6" />
<line x1="478.39" y1="129.4" x2="478.39" y2="130.7" stroke="#333" stroke-width="0.6" />
<line x1="479.99" y1="129.4" x2="479.99" y2="130.7" stroke="#333" stroke-width="0.6" />
<line x1="481.35" y1="129.4" x2="481.35" y2="130.7" stroke="#333" stroke-width="0.6" />
<line x1="482.52" y1="129.4" x2="482.52" y2="130.7" stroke="#333" stroke-width="0.6" />
<line x1="483.55" y1="129.4" x2="483.55" y2="130.7" stroke="#333" stroke-width="0.6" />
<text x="463.56" y="140.3" font-size="6.2" text-anchor="middle" fill="#333" textLength="5.9" lengthAdjust="spacingAndGlyphs"  stroke="#333" stroke-width="0.14">10</text>
<text x="467.86" y="137" font-size="4.1" text-anchor="middle" fill="#333"  stroke="#333" stroke-width="0.14">3</text>
<line x1="484.48" y1="129.4" x2="484.48" y2="132" stroke="#222" stroke-width="0.9" />
<line x1="490.57" y1="129.4" x2="490.57" y2="130.7" stroke="#333" stroke-width="0.6" />
<line x1="494.13" y1="129.4" x2="494.13" y2="130.7" stroke="#333" stroke-width="0.6" />
<line x1="496.65" y1="129.4" x2="496.65" y2="130.7" stroke="#333" stroke-width="0.6" />
<line x1="498.61" y1="129.4" x2="498.61" y2="130.7" stroke="#333" stroke-width="0.6" />
<line x1="500.21" y1="129.4" x2="500.21" y2="130.7" stroke="#333" stroke-width="0.6" />
<line x1="501.57" y1="129.4" x2="501.57" y2="130.7" stroke="#333" stroke-width="0.6" />
<line x1="502.74" y1="129.4" x2="502.74" y2="130.7" stroke="#333" stroke-width="0.6" />
<line x1="503.77" y1="129.4" x2="503.77" y2="130.7" stroke="#333" stroke-width="0.6" />
<text x="483.78" y="140.3" font-size="6.2" text-anchor="middle" fill="#333" textLength="5.9" lengthAdjust="spacingAndGlyphs"  stroke="#333" stroke-width="0.14">10</text>
<text x="488.08" y="137" font-size="4.1" text-anchor="middle" fill="#333"  stroke="#333" stroke-width="0.14">4</text>
<line x1="504.7" y1="129.4" x2="504.7" y2="132" stroke="#222" stroke-width="0.9" />
<text x="500.4" y="140.3" font-size="6.2" text-anchor="middle" fill="#333" textLength="5.9" lengthAdjust="spacingAndGlyphs"  stroke="#333" stroke-width="0.14">10</text>
<text x="504.7" y="137" font-size="4.1" text-anchor="middle" fill="#333"  stroke="#333" stroke-width="0.14">5</text>
<line x1="402.6" y1="143.9" x2="501.7" y2="143.9" stroke="#333" stroke-width="1.3" />
<path d="M500.7,141.3 L506.2,143.9 L500.7,146.5 Z" fill="#222"/>
<text x="437.1" y="155.6" font-size="9.0" text-anchor="start" fill="#1a1a1a" textLength="33.7" lengthAdjust="spacingAndGlyphs" stroke="#1a1a1a" stroke-width="0.25">HLA-DR/DQ</text>
<text x="67" y="58.9" font-size="7.6" text-anchor="end" fill="#222" textLength="23.1" lengthAdjust="spacingAndGlyphs"  stroke="#222" stroke-width="0.14">Isotype</text>
<text x="67" y="73.7" font-size="7.6" text-anchor="end" fill="#222" textLength="31.9" lengthAdjust="spacingAndGlyphs"  stroke="#222" stroke-width="0.14">Untreated</text>
<text x="67" y="87.7" font-size="7.6" text-anchor="end" fill="#222" textLength="17.1" lengthAdjust="spacingAndGlyphs"  stroke="#222" stroke-width="0.14">IFN-γ</text>
<text x="67" y="102.5" font-size="7.6" text-anchor="end" fill="#222" textLength="42.5" lengthAdjust="spacingAndGlyphs"  stroke="#222" stroke-width="0.14">IFN-γ + DAC</text>
<text x="67" y="116.4" font-size="7.6" text-anchor="end" fill="#222" textLength="39.8" lengthAdjust="spacingAndGlyphs"  stroke="#222" stroke-width="0.14">IFN-γ + TAZ</text>
<text x="67" y="131.2" font-size="7.6" text-anchor="end" fill="#222" textLength="61" lengthAdjust="spacingAndGlyphs"  stroke="#222" stroke-width="0.14">IFN-γ + DAC+TAZ</text>
<text x="90.7" y="22.8" font-size="9.7" text-anchor="start" fill="#222" textLength="62.8" lengthAdjust="spacingAndGlyphs"  stroke="#222" stroke-width="0.14">SUDHL-6 IFN-γ</text>
<text x="259.5" y="23" font-size="9.7" text-anchor="start" fill="#222" textLength="66.6" lengthAdjust="spacingAndGlyphs"  stroke="#222" stroke-width="0.14">SUDHL-10 IFN-γ</text>
<text x="415" y="22.8" font-size="9.7" text-anchor="start" fill="#222" textLength="78.5" lengthAdjust="spacingAndGlyphs"  stroke="#222" stroke-width="0.14">WSU-DLCL-2 IFN-γ</text>
<text x="6" y="15" font-size="10.8" text-anchor="start" fill="#000" font-weight="bold" textLength="7.8" lengthAdjust="spacingAndGlyphs" >A</text>
<text x="212.9" y="15" font-size="10.8" text-anchor="start" fill="#000" font-weight="bold" textLength="7.8" lengthAdjust="spacingAndGlyphs" >B</text>
<text x="372.9" y="15" font-size="10.8" text-anchor="start" fill="#000" font-weight="bold" textLength="7.8" lengthAdjust="spacingAndGlyphs" >C</text>
<text x="39.2" y="371.5" font-size="10.8" text-anchor="start" fill="#000" font-weight="bold" textLength="7.8" lengthAdjust="spacingAndGlyphs" >D</text>
<text x="279.6" y="371.9" font-size="10.8" text-anchor="start" fill="#000" font-weight="bold" textLength="7.8" lengthAdjust="spacingAndGlyphs" >E</text>
<rect x="74.8" y="272.22" width="19.2" height="19.28" fill="#85a6c8"/>
<rect x="95.9" y="261.23" width="19.2" height="30.27" fill="#7db19c"/>
<rect x="117" y="240.99" width="19.2" height="50.51" fill="#c5c0e2"/>
<rect x="138.1" y="255.25" width="19.2" height="36.25" fill="#a1a6ad"/>
<rect x="159.2" y="231.54" width="19.2" height="59.96" fill="#93d3f1"/>
<line x1="71.4" y1="261.5" x2="181.9" y2="261.5" stroke="#808080" stroke-width="0.9" stroke-dasharray="1.3,0.9"/>
<line x1="84.4" y1="270.3" x2="84.4" y2="275.1" stroke="#3a3a3a" stroke-width="0.8" />
<line x1="81.6" y1="270.3" x2="87.2" y2="270.3" stroke="#3a3a3a" stroke-width="0.8" />
<line x1="81.6" y1="275.1" x2="87.2" y2="275.1" stroke="#3a3a3a" stroke-width="0.8" />
<circle cx="84.4" cy="269.3" r="1.35" fill="#1d5796"/>
<circle cx="84.4" cy="270.7" r="1.35" fill="#1d5796"/>
<circle cx="84.4" cy="274.7" r="1.35" fill="#1d5796"/>
<circle cx="84.4" cy="276.7" r="1.35" fill="#1d5796"/>
<line x1="105.5" y1="258.1" x2="105.5" y2="263.5" stroke="#3a3a3a" stroke-width="0.8" />
<line x1="102.7" y1="258.1" x2="108.3" y2="258.1" stroke="#3a3a3a" stroke-width="0.8" />
<line x1="102.7" y1="263.5" x2="108.3" y2="263.5" stroke="#3a3a3a" stroke-width="0.8" />
<circle cx="105.5" cy="256.5" r="1.35" fill="#0d6a4a"/>
<circle cx="105.5" cy="258.6" r="1.35" fill="#0d6a4a"/>
<circle cx="105.5" cy="262.6" r="1.35" fill="#0d6a4a"/>
<circle cx="105.5" cy="264.3" r="1.35" fill="#0d6a4a"/>
<line x1="126.6" y1="227.4" x2="126.6" y2="254.6" stroke="#3a3a3a" stroke-width="0.8" />
<line x1="123.8" y1="227.4" x2="129.4" y2="227.4" stroke="#3a3a3a" stroke-width="0.8" />
<line x1="123.8" y1="254.6" x2="129.4" y2="254.6" stroke="#3a3a3a" stroke-width="0.8" />
<circle cx="126.6" cy="221.7" r="1.35" fill="#7d6fcc"/>
<circle cx="126.6" cy="231.4" r="1.35" fill="#7d6fcc"/>
<circle cx="126.6" cy="235.3" r="1.35" fill="#7d6fcc"/>
<circle cx="126.6" cy="250.5" r="1.35" fill="#7d6fcc"/>
<circle cx="126.6" cy="254" r="1.35" fill="#7d6fcc"/>
<line x1="147.7" y1="252.6" x2="147.7" y2="258" stroke="#3a3a3a" stroke-width="0.8" />
<line x1="144.9" y1="252.6" x2="150.5" y2="252.6" stroke="#3a3a3a" stroke-width="0.8" />
<line x1="144.9" y1="258" x2="150.5" y2="258" stroke="#3a3a3a" stroke-width="0.8" />
<circle cx="147.7" cy="250" r="1.35" fill="#2d3a4e"/>
<circle cx="147.7" cy="254" r="1.35" fill="#2d3a4e"/>
<circle cx="147.7" cy="256" r="1.35" fill="#2d3a4e"/>
<line x1="168.8" y1="209.3" x2="168.8" y2="253.5" stroke="#3a3a3a" stroke-width="0.8" />
<line x1="166" y1="209.3" x2="171.6" y2="209.3" stroke="#3a3a3a" stroke-width="0.8" />
<line x1="166" y1="253.5" x2="171.6" y2="253.5" stroke="#3a3a3a" stroke-width="0.8" />
<circle cx="168.8" cy="201.5" r="1.35" fill="#1ba5e3"/>
<circle cx="168.8" cy="213.6" r="1.35" fill="#1ba5e3"/>
<circle cx="168.8" cy="221.5" r="1.35" fill="#1ba5e3"/>
<circle cx="168.8" cy="248" r="1.35" fill="#1ba5e3"/>
<circle cx="168.8" cy="253" r="1.35" fill="#1ba5e3"/>
<line x1="71.4" y1="197.2" x2="71.4" y2="299.9" stroke="#111" stroke-width="1.2" />
<line x1="70.8" y1="299.3" x2="181.9" y2="299.3" stroke="#111" stroke-width="1.2" />
<line x1="68.1" y1="291.5" x2="71.4" y2="291.5" stroke="#111" stroke-width="1" />
<text x="65.8" y="294" font-size="7.0" text-anchor="end" fill="#222" textLength="4.2" lengthAdjust="spacingAndGlyphs"  stroke="#222" stroke-width="0.14">0</text>
<line x1="68.1" y1="272.22" x2="71.4" y2="272.22" stroke="#111" stroke-width="1" />
<text x="65.8" y="274.72" font-size="7.0" text-anchor="end" fill="#222" textLength="4.2" lengthAdjust="spacingAndGlyphs"  stroke="#222" stroke-width="0.14">1</text>
<line x1="68.1" y1="252.94" x2="71.4" y2="252.94" stroke="#111" stroke-width="1" />
<text x="65.8" y="255.44" font-size="7.0" text-anchor="end" fill="#222" textLength="4.2" lengthAdjust="spacingAndGlyphs"  stroke="#222" stroke-width="0.14">2</text>
<line x1="68.1" y1="233.66" x2="71.4" y2="233.66" stroke="#111" stroke-width="1" />
<text x="65.8" y="236.16" font-size="7.0" text-anchor="end" fill="#222" textLength="4.2" lengthAdjust="spacingAndGlyphs"  stroke="#222" stroke-width="0.14">3</text>
<line x1="68.1" y1="214.38" x2="71.4" y2="214.38" stroke="#111" stroke-width="1" />
<text x="65.8" y="216.88" font-size="7.0" text-anchor="end" fill="#222" textLength="4.2" lengthAdjust="spacingAndGlyphs"  stroke="#222" stroke-width="0.14">4</text>
<line x1="84.4" y1="299.3" x2="84.4" y2="302.3" stroke="#111" stroke-width="0.9" />
<text x="84.4" y="297.8" font-size="6.0" text-anchor="middle" fill="#222" textLength="11.5" lengthAdjust="spacingAndGlyphs"  stroke="#222" stroke-width="0.14">1.00</text>
<text x="88.4" y="309" font-size="7.1" text-anchor="end" fill="#222" textLength="33.5" lengthAdjust="spacingAndGlyphs" transform="rotate(-45 88.4 309)"  stroke="#222" stroke-width="0.14">Untreated</text>
<line x1="105.5" y1="299.3" x2="105.5" y2="302.3" stroke="#111" stroke-width="0.9" />
<text x="105.5" y="297.8" font-size="6.0" text-anchor="middle" fill="#222" textLength="11.5" lengthAdjust="spacingAndGlyphs"  stroke="#222" stroke-width="0.14">1.57</text>
<text x="109.5" y="309" font-size="7.1" text-anchor="end" fill="#222" textLength="18.5" lengthAdjust="spacingAndGlyphs" transform="rotate(-45 109.5 309)"  stroke="#222" stroke-width="0.14">IFN-γ</text>
<line x1="126.6" y1="299.3" x2="126.6" y2="302.3" stroke="#111" stroke-width="0.9" />
<text x="126.6" y="297.8" font-size="6.0" text-anchor="middle" fill="#222" textLength="11.5" lengthAdjust="spacingAndGlyphs"  stroke="#222" stroke-width="0.14">2.62</text>
<text x="130.6" y="309" font-size="7.1" text-anchor="end" fill="#222" textLength="41.5" lengthAdjust="spacingAndGlyphs" transform="rotate(-45 130.6 309)"  stroke="#222" stroke-width="0.14">IFN-γ + DAC</text>
<line x1="147.7" y1="299.3" x2="147.7" y2="302.3" stroke="#111" stroke-width="0.9" />
<text x="147.7" y="297.8" font-size="6.0" text-anchor="middle" fill="#222" textLength="11.5" lengthAdjust="spacingAndGlyphs"  stroke="#222" stroke-width="0.14">1.88</text>
<text x="151.7" y="309" font-size="7.1" text-anchor="end" fill="#222" textLength="40.5" lengthAdjust="spacingAndGlyphs" transform="rotate(-45 151.7 309)"  stroke="#222" stroke-width="0.14">IFN-γ + TAZ</text>
<line x1="168.8" y1="299.3" x2="168.8" y2="302.3" stroke="#111" stroke-width="0.9" />
<text x="168.8" y="297.8" font-size="6.0" text-anchor="middle" fill="#222" textLength="11.5" lengthAdjust="spacingAndGlyphs"  stroke="#222" stroke-width="0.14">3.11</text>
<text x="172.8" y="309" font-size="7.1" text-anchor="end" fill="#222" textLength="58.5" lengthAdjust="spacingAndGlyphs" transform="rotate(-45 172.8 309)"  stroke="#222" stroke-width="0.14">IFN-γ + DAC+TAZ</text>
<text x="55.3" y="280.2" font-size="9.6" text-anchor="start" fill="#111" textLength="54.5" lengthAdjust="spacingAndGlyphs" transform="rotate(-90 55.3 280.2)" stroke="#111" stroke-width="0.25">Fold over untreated</text>
<line x1="103" y1="205.8" x2="126.8" y2="205.8" stroke="#707070" stroke-width="1.4" />
<circle cx="115" cy="201.9" r="1.25" fill="#111"/>
<line x1="103" y1="197.8" x2="147.7" y2="197.8" stroke="#707070" stroke-width="1.4" />
<circle cx="122" cy="194.6" r="1.25" fill="#111"/>
<circle cx="125.3" cy="194.6" r="1.25" fill="#111"/>
<circle cx="128.6" cy="194.6" r="1.25" fill="#111"/>
<line x1="103" y1="191.1" x2="170.6" y2="191.1" stroke="#707070" stroke-width="1.4" />
<circle cx="131.9" cy="186.5" r="1.25" fill="#111"/>
<circle cx="135.2" cy="186.5" r="1.25" fill="#111"/>
<circle cx="138.5" cy="186.5" r="1.25" fill="#111"/>
<rect x="246.4" y="245.5" width="17.5" height="45.4" fill="#85a6c8"/>
<rect x="265.5" y="247.77" width="17.5" height="43.13" fill="#7db19c"/>
<rect x="284.6" y="227.79" width="17.5" height="63.11" fill="#c5c0e2"/>
<rect x="303.7" y="240.51" width="17.5" height="50.39" fill="#a1a6ad"/>
<rect x="322.8" y="218.71" width="17.5" height="72.19" fill="#93d3f1"/>
<line x1="243.6" y1="247.5" x2="343.5" y2="247.5" stroke="#808080" stroke-width="0.9" stroke-dasharray="1.3,0.9"/>
<line x1="255.15" y1="242.5" x2="255.15" y2="248.5" stroke="#3a3a3a" stroke-width="0.8" />
<line x1="252.75" y1="242.5" x2="257.55" y2="242.5" stroke="#3a3a3a" stroke-width="0.8" />
<line x1="252.75" y1="248.5" x2="257.55" y2="248.5" stroke="#3a3a3a" stroke-width="0.8" />
<circle cx="255.15" cy="241" r="1.35" fill="#1d5796"/>
<circle cx="255.15" cy="243.5" r="1.35" fill="#1d5796"/>
<circle cx="255.15" cy="246.5" r="1.35" fill="#1d5796"/>
<circle cx="255.15" cy="249" r="1.35" fill="#1d5796"/>
<line x1="274.25" y1="246.5" x2="274.25" y2="250.5" stroke="#3a3a3a" stroke-width="0.8" />
<line x1="271.85" y1="246.5" x2="276.65" y2="246.5" stroke="#3a3a3a" stroke-width="0.8" />
<line x1="271.85" y1="250.5" x2="276.65" y2="250.5" stroke="#3a3a3a" stroke-width="0.8" />
<circle cx="274.25" cy="245.6" r="1.35" fill="#0d6a4a"/>
<circle cx="274.25" cy="247.2" r="1.35" fill="#0d6a4a"/>
<circle cx="274.25" cy="249.2" r="1.35" fill="#0d6a4a"/>
<circle cx="274.25" cy="251.6" r="1.35" fill="#0d6a4a"/>
<line x1="293.35" y1="225.3" x2="293.35" y2="230.7" stroke="#3a3a3a" stroke-width="0.8" />
<line x1="290.95" y1="225.3" x2="295.75" y2="225.3" stroke="#3a3a3a" stroke-width="0.8" />
<line x1="290.95" y1="230.7" x2="295.75" y2="230.7" stroke="#3a3a3a" stroke-width="0.8" />
<circle cx="293.35" cy="223" r="1.35" fill="#7d6fcc"/>
<circle cx="293.35" cy="227" r="1.35" fill="#7d6fcc"/>
<circle cx="293.35" cy="229" r="1.35" fill="#7d6fcc"/>
<line x1="312.45" y1="236.2" x2="312.45" y2="244.5" stroke="#3a3a3a" stroke-width="0.8" />
<line x1="310.05" y1="236.2" x2="314.85" y2="236.2" stroke="#3a3a3a" stroke-width="0.8" />
<line x1="310.05" y1="244.5" x2="314.85" y2="244.5" stroke="#3a3a3a" stroke-width="0.8" />
<circle cx="312.45" cy="236" r="1.35" fill="#2d3a4e"/>
<circle cx="312.45" cy="239" r="1.35" fill="#2d3a4e"/>
<circle cx="312.45" cy="242" r="1.35" fill="#2d3a4e"/>
<circle cx="312.45" cy="245" r="1.35" fill="#2d3a4e"/>
<line x1="331.55" y1="206.5" x2="331.55" y2="232.7" stroke="#3a3a3a" stroke-width="0.8" />
<line x1="329.15" y1="206.5" x2="333.95" y2="206.5" stroke="#3a3a3a" stroke-width="0.8" />
<line x1="329.15" y1="232.7" x2="333.95" y2="232.7" stroke="#3a3a3a" stroke-width="0.8" />
<circle cx="331.55" cy="201.5" r="1.35" fill="#1ba5e3"/>
<circle cx="331.55" cy="209" r="1.35" fill="#1ba5e3"/>
<circle cx="331.55" cy="214" r="1.35" fill="#1ba5e3"/>
<circle cx="331.55" cy="228" r="1.35" fill="#1ba5e3"/>
<circle cx="331.55" cy="233" r="1.35" fill="#1ba5e3"/>
<line x1="243.6" y1="196" x2="243.6" y2="299.5" stroke="#111" stroke-width="1.2" />
<line x1="243" y1="298.9" x2="343.5" y2="298.9" stroke="#111" stroke-width="1.2" />
<line x1="240.3" y1="290.9" x2="243.6" y2="290.9" stroke="#111" stroke-width="1" />
<text x="238.4" y="293.4" font-size="7.0" text-anchor="end" fill="#222" textLength="10.6" lengthAdjust="spacingAndGlyphs"  stroke="#222" stroke-width="0.14">0.0</text>
<line x1="240.3" y1="268.2" x2="243.6" y2="268.2" stroke="#111" stroke-width="1" />
<text x="238.4" y="270.7" font-size="7.0" text-anchor="end" fill="#222" textLength="10.6" lengthAdjust="spacingAndGlyphs"  stroke="#222" stroke-width="0.14">0.5</text>
<line x1="240.3" y1="245.5" x2="243.6" y2="245.5" stroke="#111" stroke-width="1" />
<text x="238.4" y="248" font-size="7.0" text-anchor="end" fill="#222" textLength="10.6" lengthAdjust="spacingAndGlyphs"  stroke="#222" stroke-width="0.14">1.0</text>
<line x1="240.3" y1="222.8" x2="243.6" y2="222.8" stroke="#111" stroke-width="1" />
<text x="238.4" y="225.3" font-size="7.0" text-anchor="end" fill="#222" textLength="10.6" lengthAdjust="spacingAndGlyphs"  stroke="#222" stroke-width="0.14">1.5</text>
<line x1="240.3" y1="200.1" x2="243.6" y2="200.1" stroke="#111" stroke-width="1" />
<text x="238.4" y="202.6" font-size="7.0" text-anchor="end" fill="#222" textLength="10.6" lengthAdjust="spacingAndGlyphs"  stroke="#222" stroke-width="0.14">2.0</text>
<line x1="255.15" y1="298.9" x2="255.15" y2="301.9" stroke="#111" stroke-width="0.9" />
<text x="255.15" y="297.3" font-size="6.0" text-anchor="middle" fill="#222" textLength="11.5" lengthAdjust="spacingAndGlyphs"  stroke="#222" stroke-width="0.14">1.00</text>
<text x="259.05" y="309" font-size="7.1" text-anchor="end" fill="#222" textLength="33.5" lengthAdjust="spacingAndGlyphs" transform="rotate(-45 259.05 309)"  stroke="#222" stroke-width="0.14">Untreated</text>
<line x1="274.25" y1="298.9" x2="274.25" y2="301.9" stroke="#111" stroke-width="0.9" />
<text x="274.25" y="297.3" font-size="6.0" text-anchor="middle" fill="#222" textLength="11.5" lengthAdjust="spacingAndGlyphs"  stroke="#222" stroke-width="0.14">0.95</text>
<text x="278.15" y="309" font-size="7.1" text-anchor="end" fill="#222" textLength="18.5" lengthAdjust="spacingAndGlyphs" transform="rotate(-45 278.15 309)"  stroke="#222" stroke-width="0.14">IFN-γ</text>
<line x1="293.35" y1="298.9" x2="293.35" y2="301.9" stroke="#111" stroke-width="0.9" />
<text x="293.35" y="297.3" font-size="6.0" text-anchor="middle" fill="#222" textLength="11.5" lengthAdjust="spacingAndGlyphs"  stroke="#222" stroke-width="0.14">1.39</text>
<text x="297.25" y="309" font-size="7.1" text-anchor="end" fill="#222" textLength="41.5" lengthAdjust="spacingAndGlyphs" transform="rotate(-45 297.25 309)"  stroke="#222" stroke-width="0.14">IFN-γ + DAC</text>
<line x1="312.45" y1="298.9" x2="312.45" y2="301.9" stroke="#111" stroke-width="0.9" />
<text x="312.45" y="297.3" font-size="6.0" text-anchor="middle" fill="#222" textLength="11.5" lengthAdjust="spacingAndGlyphs"  stroke="#222" stroke-width="0.14">1.11</text>
<text x="316.35" y="309" font-size="7.1" text-anchor="end" fill="#222" textLength="40.5" lengthAdjust="spacingAndGlyphs" transform="rotate(-45 316.35 309)"  stroke="#222" stroke-width="0.14">IFN-γ + TAZ</text>
<line x1="331.55" y1="298.9" x2="331.55" y2="301.9" stroke="#111" stroke-width="0.9" />
<text x="331.55" y="297.3" font-size="6.0" text-anchor="middle" fill="#222" textLength="11.5" lengthAdjust="spacingAndGlyphs"  stroke="#222" stroke-width="0.14">1.59</text>
<text x="335.45" y="309" font-size="7.1" text-anchor="end" fill="#222" textLength="58.5" lengthAdjust="spacingAndGlyphs" transform="rotate(-45 335.45 309)"  stroke="#222" stroke-width="0.14">IFN-γ + DAC+TAZ</text>
<text x="222.1" y="273.2" font-size="9.6" text-anchor="start" fill="#111" textLength="54.5" lengthAdjust="spacingAndGlyphs" transform="rotate(-90 222.1 273.2)" stroke="#111" stroke-width="0.25">Fold over untreated</text>
<line x1="273.2" y1="206.2" x2="293.5" y2="206.2" stroke="#707070" stroke-width="1.4" />
<circle cx="279.7" cy="201.5" r="1.25" fill="#111"/>
<circle cx="283" cy="201.5" r="1.25" fill="#111"/>
<circle cx="286.3" cy="201.5" r="1.25" fill="#111"/>
<line x1="274.2" y1="195.8" x2="310.8" y2="195.8" stroke="#707070" stroke-width="1.4" />
<text x="291.9" y="193.5" font-size="8.2" text-anchor="middle" fill="#333"  stroke="#333" stroke-width="0.14">ns</text>
<line x1="273" y1="185" x2="331.2" y2="185" stroke="#707070" stroke-width="1.4" />
<circle cx="295.75" cy="180.8" r="1.25" fill="#111"/>
<circle cx="299.05" cy="180.8" r="1.25" fill="#111"/>
<circle cx="302.35" cy="180.8" r="1.25" fill="#111"/>
<circle cx="305.65" cy="180.8" r="1.25" fill="#111"/>
<rect x="406.5" y="245.3" width="19.4" height="45" fill="#85a6c8"/>
<rect x="427.57" y="239.9" width="19.4" height="50.4" fill="#7db19c"/>
<rect x="448.64" y="216.05" width="19.4" height="74.25" fill="#c5c0e2"/>
<rect x="469.71" y="230.45" width="19.4" height="59.85" fill="#a1a6ad"/>
<rect x="490.78" y="210.65" width="19.4" height="79.65" fill="#93d3f1"/>
<line x1="403.5" y1="239.5" x2="512.5" y2="239.5" stroke="#808080" stroke-width="0.9" stroke-dasharray="1.3,0.9"/>
<line x1="416.2" y1="239.2" x2="416.2" y2="251.5" stroke="#3a3a3a" stroke-width="0.8" />
<line x1="413.4" y1="239.2" x2="419" y2="239.2" stroke="#3a3a3a" stroke-width="0.8" />
<line x1="413.4" y1="251.5" x2="419" y2="251.5" stroke="#3a3a3a" stroke-width="0.8" />
<circle cx="416.2" cy="236" r="1.35" fill="#1d5796"/>
<circle cx="416.2" cy="240" r="1.35" fill="#1d5796"/>
<circle cx="416.2" cy="248" r="1.35" fill="#1d5796"/>
<circle cx="416.2" cy="250" r="1.35" fill="#1d5796"/>
<line x1="437.27" y1="229.5" x2="437.27" y2="250" stroke="#3a3a3a" stroke-width="0.8" />
<line x1="434.47" y1="229.5" x2="440.07" y2="229.5" stroke="#3a3a3a" stroke-width="0.8" />
<line x1="434.47" y1="250" x2="440.07" y2="250" stroke="#3a3a3a" stroke-width="0.8" />
<circle cx="437.27" cy="223.5" r="1.35" fill="#0d6a4a"/>
<circle cx="437.27" cy="232" r="1.35" fill="#0d6a4a"/>
<circle cx="437.27" cy="240" r="1.35" fill="#0d6a4a"/>
<circle cx="437.27" cy="243" r="1.35" fill="#0d6a4a"/>
<circle cx="437.27" cy="247" r="1.35" fill="#0d6a4a"/>
<circle cx="437.27" cy="250" r="1.35" fill="#0d6a4a"/>
<line x1="458.34" y1="199.2" x2="458.34" y2="232.7" stroke="#3a3a3a" stroke-width="0.8" />
<line x1="455.54" y1="199.2" x2="461.14" y2="199.2" stroke="#3a3a3a" stroke-width="0.8" />
<line x1="455.54" y1="232.7" x2="461.14" y2="232.7" stroke="#3a3a3a" stroke-width="0.8" />
<circle cx="458.34" cy="190.7" r="1.35" fill="#7d6fcc"/>
<circle cx="458.34" cy="208" r="1.35" fill="#7d6fcc"/>
<circle cx="458.34" cy="214.6" r="1.35" fill="#7d6fcc"/>
<circle cx="458.34" cy="238" r="1.35" fill="#7d6fcc"/>
<line x1="479.41" y1="220.5" x2="479.41" y2="240" stroke="#3a3a3a" stroke-width="0.8" />
<line x1="476.61" y1="220.5" x2="482.21" y2="220.5" stroke="#3a3a3a" stroke-width="0.8" />
<line x1="476.61" y1="240" x2="482.21" y2="240" stroke="#3a3a3a" stroke-width="0.8" />
<circle cx="479.41" cy="214.6" r="1.35" fill="#2d3a4e"/>
<circle cx="479.41" cy="223.5" r="1.35" fill="#2d3a4e"/>
<circle cx="479.41" cy="236" r="1.35" fill="#2d3a4e"/>
<circle cx="479.41" cy="240" r="1.35" fill="#2d3a4e"/>
<line x1="500.48" y1="197.6" x2="500.48" y2="223.4" stroke="#3a3a3a" stroke-width="0.8" />
<line x1="497.68" y1="197.6" x2="503.28" y2="197.6" stroke="#3a3a3a" stroke-width="0.8" />
<line x1="497.68" y1="223.4" x2="503.28" y2="223.4" stroke="#3a3a3a" stroke-width="0.8" />
<circle cx="500.48" cy="194" r="1.35" fill="#1ba5e3"/>
<circle cx="500.48" cy="198" r="1.35" fill="#1ba5e3"/>
<circle cx="500.48" cy="206.5" r="1.35" fill="#1ba5e3"/>
<circle cx="500.48" cy="219" r="1.35" fill="#1ba5e3"/>
<circle cx="500.48" cy="227" r="1.35" fill="#1ba5e3"/>
<line x1="403.5" y1="186.9" x2="403.5" y2="299.8" stroke="#111" stroke-width="1.2" />
<line x1="402.9" y1="299.2" x2="512.5" y2="299.2" stroke="#111" stroke-width="1.2" />
<line x1="400.2" y1="290.3" x2="403.5" y2="290.3" stroke="#111" stroke-width="1" />
<text x="398" y="292.8" font-size="7.0" text-anchor="end" fill="#222" textLength="10.6" lengthAdjust="spacingAndGlyphs"  stroke="#222" stroke-width="0.14">0.0</text>
<line x1="400.2" y1="267.8" x2="403.5" y2="267.8" stroke="#111" stroke-width="1" />
<text x="398" y="270.3" font-size="7.0" text-anchor="end" fill="#222" textLength="10.6" lengthAdjust="spacingAndGlyphs"  stroke="#222" stroke-width="0.14">0.5</text>
<line x1="400.2" y1="245.3" x2="403.5" y2="245.3" stroke="#111" stroke-width="1" />
<text x="398" y="247.8" font-size="7.0" text-anchor="end" fill="#222" textLength="10.6" lengthAdjust="spacingAndGlyphs"  stroke="#222" stroke-width="0.14">1.0</text>
<line x1="400.2" y1="222.8" x2="403.5" y2="222.8" stroke="#111" stroke-width="1" />
<text x="398" y="225.3" font-size="7.0" text-anchor="end" fill="#222" textLength="10.6" lengthAdjust="spacingAndGlyphs"  stroke="#222" stroke-width="0.14">1.5</text>
<line x1="400.2" y1="200.3" x2="403.5" y2="200.3" stroke="#111" stroke-width="1" />
<text x="398" y="202.8" font-size="7.0" text-anchor="end" fill="#222" textLength="10.6" lengthAdjust="spacingAndGlyphs"  stroke="#222" stroke-width="0.14">2.0</text>
<line x1="416.2" y1="299.2" x2="416.2" y2="302.2" stroke="#111" stroke-width="0.9" />
<text x="416.2" y="297.3" font-size="6.0" text-anchor="middle" fill="#222" textLength="11.5" lengthAdjust="spacingAndGlyphs"  stroke="#222" stroke-width="0.14">1.00</text>
<text x="419.9" y="309.2" font-size="7.1" text-anchor="end" fill="#222" textLength="33.5" lengthAdjust="spacingAndGlyphs" transform="rotate(-45 419.9 309.2)"  stroke="#222" stroke-width="0.14">Untreated</text>
<line x1="437.27" y1="299.2" x2="437.27" y2="302.2" stroke="#111" stroke-width="0.9" />
<text x="437.27" y="297.3" font-size="6.0" text-anchor="middle" fill="#222" textLength="11.5" lengthAdjust="spacingAndGlyphs"  stroke="#222" stroke-width="0.14">1.12</text>
<text x="440.97" y="309.2" font-size="7.1" text-anchor="end" fill="#222" textLength="18.5" lengthAdjust="spacingAndGlyphs" transform="rotate(-45 440.97 309.2)"  stroke="#222" stroke-width="0.14">IFN-γ</text>
<line x1="458.34" y1="299.2" x2="458.34" y2="302.2" stroke="#111" stroke-width="0.9" />
<text x="458.34" y="297.3" font-size="6.0" text-anchor="middle" fill="#222" textLength="11.5" lengthAdjust="spacingAndGlyphs"  stroke="#222" stroke-width="0.14">1.65</text>
<text x="462.04" y="309.2" font-size="7.1" text-anchor="end" fill="#222" textLength="41.5" lengthAdjust="spacingAndGlyphs" transform="rotate(-45 462.04 309.2)"  stroke="#222" stroke-width="0.14">IFN-γ + DAC</text>
<line x1="479.41" y1="299.2" x2="479.41" y2="302.2" stroke="#111" stroke-width="0.9" />
<text x="479.41" y="297.3" font-size="6.0" text-anchor="middle" fill="#222" textLength="11.5" lengthAdjust="spacingAndGlyphs"  stroke="#222" stroke-width="0.14">1.33</text>
<text x="483.11" y="309.2" font-size="7.1" text-anchor="end" fill="#222" textLength="40.5" lengthAdjust="spacingAndGlyphs" transform="rotate(-45 483.11 309.2)"  stroke="#222" stroke-width="0.14">IFN-γ + TAZ</text>
<line x1="500.48" y1="299.2" x2="500.48" y2="302.2" stroke="#111" stroke-width="0.9" />
<text x="500.48" y="297.3" font-size="6.0" text-anchor="middle" fill="#222" textLength="11.5" lengthAdjust="spacingAndGlyphs"  stroke="#222" stroke-width="0.14">1.77</text>
<text x="504.18" y="309.2" font-size="7.1" text-anchor="end" fill="#222" textLength="58.5" lengthAdjust="spacingAndGlyphs" transform="rotate(-45 504.18 309.2)"  stroke="#222" stroke-width="0.14">IFN-γ + DAC+TAZ</text>
<text x="382.2" y="273.2" font-size="9.6" text-anchor="start" fill="#111" textLength="54.5" lengthAdjust="spacingAndGlyphs" transform="rotate(-90 382.2 273.2)" stroke="#111" stroke-width="0.25">Fold over untreated</text>
<line x1="438.5" y1="190.7" x2="461" y2="190.7" stroke="#707070" stroke-width="1.4" />
<circle cx="449.3" cy="186.5" r="1.25" fill="#111"/>
<line x1="439.5" y1="183.7" x2="479" y2="183.7" stroke="#707070" stroke-width="1.4" />
<text x="457.3" y="182.7" font-size="8.2" text-anchor="middle" fill="#333"  stroke="#333" stroke-width="0.14">ns</text>
<line x1="438.5" y1="176" x2="501.1" y2="176" stroke="#707070" stroke-width="1.4" />
<circle cx="464.85" cy="171.4" r="1.25" fill="#111"/>
<circle cx="468.15" cy="171.4" r="1.25" fill="#111"/>
<rect x="73.2" y="508.7" width="11.8" height="33.5" fill="#e08397"/>
<rect x="86.47" y="508.5" width="11.8" height="33.7" fill="#e08397"/>
<rect x="99.74" y="499.7" width="11.8" height="42.5" fill="#e08397"/>
<rect x="113.01" y="498.3" width="11.8" height="43.9" fill="#e08397"/>
<rect x="126.28" y="491.4" width="11.8" height="50.8" fill="#e08397"/>
<rect x="139.55" y="486.2" width="11.8" height="56" fill="#fbc482"/>
<rect x="152.82" y="474.5" width="11.8" height="67.7" fill="#fbc482"/>
<rect x="166.09" y="456" width="11.8" height="86.2" fill="#fbc482"/>
<rect x="179.36" y="449.9" width="11.8" height="92.3" fill="#fbc482"/>
<rect x="192.63" y="456.8" width="11.8" height="85.4" fill="#fbc482"/>
<line x1="71.4" y1="508.5" x2="205.8" y2="508.5" stroke="#808080" stroke-width="0.9" stroke-dasharray="1.3,0.9"/>
<line x1="137.5" y1="428.5" x2="137.5" y2="577.3" stroke="#707070" stroke-width="0.9" stroke-dasharray="1.3,0.9"/>
<line x1="79.1" y1="507.6" x2="79.1" y2="509.6" stroke="#4a4a4a" stroke-width="0.9" />
<line x1="76.6" y1="507.6" x2="81.6" y2="507.6" stroke="#4a4a4a" stroke-width="0.9" />
<line x1="76.6" y1="509.6" x2="81.6" y2="509.6" stroke="#4a4a4a" stroke-width="0.9" />
<circle cx="79.1" cy="508.5" r="1.25" fill="#c8102e"/>
<line x1="92.37" y1="505" x2="92.37" y2="511" stroke="#4a4a4a" stroke-width="0.9" />
<line x1="89.87" y1="505" x2="94.87" y2="505" stroke="#4a4a4a" stroke-width="0.9" />
<line x1="89.87" y1="511" x2="94.87" y2="511" stroke="#4a4a4a" stroke-width="0.9" />
<circle cx="92.37" cy="504.8" r="1.25" fill="#c8102e"/>
<circle cx="92.37" cy="509" r="1.25" fill="#c8102e"/>
<circle cx="92.37" cy="511" r="1.25" fill="#c8102e"/>
<line x1="105.64" y1="494.7" x2="105.64" y2="503.5" stroke="#4a4a4a" stroke-width="0.9" />
<line x1="103.14" y1="494.7" x2="108.14" y2="494.7" stroke="#4a4a4a" stroke-width="0.9" />
<line x1="103.14" y1="503.5" x2="108.14" y2="503.5" stroke="#4a4a4a" stroke-width="0.9" />
<circle cx="105.64" cy="495" r="1.25" fill="#c8102e"/>
<circle cx="105.64" cy="499" r="1.25" fill="#c8102e"/>
<circle cx="105.64" cy="503" r="1.25" fill="#c8102e"/>
<line x1="118.91" y1="493.5" x2="118.91" y2="503" stroke="#4a4a4a" stroke-width="0.9" />
<line x1="116.41" y1="493.5" x2="121.41" y2="493.5" stroke="#4a4a4a" stroke-width="0.9" />
<line x1="116.41" y1="503" x2="121.41" y2="503" stroke="#4a4a4a" stroke-width="0.9" />
<circle cx="118.91" cy="493.5" r="1.25" fill="#c8102e"/>
<circle cx="118.91" cy="498" r="1.25" fill="#c8102e"/>
<circle cx="118.91" cy="503" r="1.25" fill="#c8102e"/>
<line x1="132.18" y1="488" x2="132.18" y2="494" stroke="#4a4a4a" stroke-width="0.9" />
<line x1="129.68" y1="488" x2="134.68" y2="488" stroke="#4a4a4a" stroke-width="0.9" />
<line x1="129.68" y1="494" x2="134.68" y2="494" stroke="#4a4a4a" stroke-width="0.9" />
<circle cx="132.18" cy="487.5" r="1.25" fill="#c8102e"/>
<circle cx="132.18" cy="491" r="1.25" fill="#c8102e"/>
<circle cx="132.18" cy="493.5" r="1.25" fill="#c8102e"/>
<line x1="145.45" y1="479.8" x2="145.45" y2="492.6" stroke="#4a4a4a" stroke-width="0.9" />
<line x1="142.95" y1="479.8" x2="147.95" y2="479.8" stroke="#4a4a4a" stroke-width="0.9" />
<line x1="142.95" y1="492.6" x2="147.95" y2="492.6" stroke="#4a4a4a" stroke-width="0.9" />
<circle cx="145.45" cy="479.8" r="1.25" fill="#f7941d"/>
<circle cx="145.45" cy="486" r="1.25" fill="#f7941d"/>
<circle cx="145.45" cy="492" r="1.25" fill="#f7941d"/>
<line x1="158.72" y1="465.1" x2="158.72" y2="482.8" stroke="#4a4a4a" stroke-width="0.9" />
<line x1="156.22" y1="465.1" x2="161.22" y2="465.1" stroke="#4a4a4a" stroke-width="0.9" />
<line x1="156.22" y1="482.8" x2="161.22" y2="482.8" stroke="#4a4a4a" stroke-width="0.9" />
<circle cx="158.72" cy="464.6" r="1.25" fill="#f7941d"/>
<circle cx="158.72" cy="477.3" r="1.25" fill="#f7941d"/>
<circle cx="158.72" cy="482" r="1.25" fill="#f7941d"/>
<line x1="171.99" y1="446.4" x2="171.99" y2="465.5" stroke="#4a4a4a" stroke-width="0.9" />
<line x1="169.49" y1="446.4" x2="174.49" y2="446.4" stroke="#4a4a4a" stroke-width="0.9" />
<line x1="169.49" y1="465.5" x2="174.49" y2="465.5" stroke="#4a4a4a" stroke-width="0.9" />
<circle cx="171.99" cy="446.4" r="1.25" fill="#f7941d"/>
<circle cx="171.99" cy="455.5" r="1.25" fill="#f7941d"/>
<circle cx="171.99" cy="465" r="1.25" fill="#f7941d"/>
<line x1="185.26" y1="439.5" x2="185.26" y2="459.4" stroke="#4a4a4a" stroke-width="0.9" />
<line x1="182.76" y1="439.5" x2="187.76" y2="439.5" stroke="#4a4a4a" stroke-width="0.9" />
<line x1="182.76" y1="459.4" x2="187.76" y2="459.4" stroke="#4a4a4a" stroke-width="0.9" />
<circle cx="185.26" cy="437.8" r="1.25" fill="#f7941d"/>
<circle cx="185.26" cy="454" r="1.25" fill="#f7941d"/>
<circle cx="185.26" cy="458" r="1.25" fill="#f7941d"/>
<line x1="198.53" y1="451.6" x2="198.53" y2="462.9" stroke="#4a4a4a" stroke-width="0.9" />
<line x1="196.03" y1="451.6" x2="201.03" y2="451.6" stroke="#4a4a4a" stroke-width="0.9" />
<line x1="196.03" y1="462.9" x2="201.03" y2="462.9" stroke="#4a4a4a" stroke-width="0.9" />
<circle cx="198.53" cy="452" r="1.25" fill="#f7941d"/>
<circle cx="198.53" cy="454" r="1.25" fill="#f7941d"/>
<circle cx="198.53" cy="462" r="1.25" fill="#f7941d"/>
<line x1="71.4" y1="432.9" x2="71.4" y2="552.5" stroke="#111" stroke-width="1.2" />
<line x1="70.8" y1="551.9" x2="204.8" y2="551.9" stroke="#111" stroke-width="1.2" />
<line x1="68.1" y1="542.2" x2="71.4" y2="542.2" stroke="#111" stroke-width="1" />
<text x="66.6" y="544.7" font-size="7.0" text-anchor="end" fill="#222" textLength="4.4" lengthAdjust="spacingAndGlyphs"  stroke="#222" stroke-width="0.14">0</text>
<line x1="68.1" y1="508.7" x2="71.4" y2="508.7" stroke="#111" stroke-width="1" />
<text x="66.6" y="511.2" font-size="7.0" text-anchor="end" fill="#222" textLength="4.4" lengthAdjust="spacingAndGlyphs"  stroke="#222" stroke-width="0.14">1</text>
<line x1="68.1" y1="475.2" x2="71.4" y2="475.2" stroke="#111" stroke-width="1" />
<text x="66.6" y="477.7" font-size="7.0" text-anchor="end" fill="#222" textLength="4.4" lengthAdjust="spacingAndGlyphs"  stroke="#222" stroke-width="0.14">2</text>
<line x1="68.1" y1="441.7" x2="71.4" y2="441.7" stroke="#111" stroke-width="1" />
<text x="66.6" y="444.2" font-size="7.0" text-anchor="end" fill="#222" textLength="4.4" lengthAdjust="spacingAndGlyphs"  stroke="#222" stroke-width="0.14">3</text>
<line x1="79.1" y1="551.9" x2="79.1" y2="555.3" stroke="#111" stroke-width="0.9" />
<text x="79.1" y="549.7" font-size="5.9" text-anchor="middle" fill="#333" textLength="8" lengthAdjust="spacingAndGlyphs"  stroke="#333" stroke-width="0.14">1.0</text>
<text x="81.9" y="557" font-size="7.8" text-anchor="end" fill="#1a1a1a" textLength="3.9" lengthAdjust="spacingAndGlyphs" transform="rotate(-90 81.9 557)"  stroke="#1a1a1a" stroke-width="0.14">0</text>
<line x1="92.37" y1="551.9" x2="92.37" y2="555.3" stroke="#111" stroke-width="0.9" />
<text x="92.37" y="549.7" font-size="5.9" text-anchor="middle" fill="#333" textLength="8" lengthAdjust="spacingAndGlyphs"  stroke="#333" stroke-width="0.14">1.0</text>
<text x="95.17" y="557" font-size="7.8" text-anchor="end" fill="#1a1a1a" textLength="10.8" lengthAdjust="spacingAndGlyphs" transform="rotate(-90 95.17 557)"  stroke="#1a1a1a" stroke-width="0.14">0.1</text>
<line x1="105.64" y1="551.9" x2="105.64" y2="555.3" stroke="#111" stroke-width="0.9" />
<text x="105.64" y="549.7" font-size="5.9" text-anchor="middle" fill="#333" textLength="8" lengthAdjust="spacingAndGlyphs"  stroke="#333" stroke-width="0.14">1.3</text>
<text x="108.44" y="557" font-size="7.8" text-anchor="end" fill="#1a1a1a" textLength="3.9" lengthAdjust="spacingAndGlyphs" transform="rotate(-90 108.44 557)"  stroke="#1a1a1a" stroke-width="0.14">1</text>
<line x1="118.91" y1="551.9" x2="118.91" y2="555.3" stroke="#111" stroke-width="0.9" />
<text x="118.91" y="549.7" font-size="5.9" text-anchor="middle" fill="#333" textLength="8" lengthAdjust="spacingAndGlyphs"  stroke="#333" stroke-width="0.14">1.3</text>
<text x="121.71" y="557" font-size="7.8" text-anchor="end" fill="#1a1a1a" textLength="7.6" lengthAdjust="spacingAndGlyphs" transform="rotate(-90 121.71 557)"  stroke="#1a1a1a" stroke-width="0.14">10</text>
<line x1="132.18" y1="551.9" x2="132.18" y2="555.3" stroke="#111" stroke-width="0.9" />
<text x="132.18" y="549.7" font-size="5.9" text-anchor="middle" fill="#333" textLength="8" lengthAdjust="spacingAndGlyphs"  stroke="#333" stroke-width="0.14">1.5</text>
<text x="134.98" y="557" font-size="7.8" text-anchor="end" fill="#1a1a1a" textLength="10.8" lengthAdjust="spacingAndGlyphs" transform="rotate(-90 134.98 557)"  stroke="#1a1a1a" stroke-width="0.14">100</text>
<line x1="145.45" y1="551.9" x2="145.45" y2="555.3" stroke="#111" stroke-width="0.9" />
<text x="145.45" y="549.7" font-size="5.9" text-anchor="middle" fill="#333" textLength="8" lengthAdjust="spacingAndGlyphs"  stroke="#333" stroke-width="0.14">1.7</text>
<text x="148.25" y="557" font-size="7.8" text-anchor="end" fill="#1a1a1a" textLength="3.9" lengthAdjust="spacingAndGlyphs" transform="rotate(-90 148.25 557)"  stroke="#1a1a1a" stroke-width="0.14">0</text>
<line x1="158.72" y1="551.9" x2="158.72" y2="555.3" stroke="#111" stroke-width="0.9" />
<text x="158.72" y="549.7" font-size="5.9" text-anchor="middle" fill="#333" textLength="8" lengthAdjust="spacingAndGlyphs"  stroke="#333" stroke-width="0.14">2.0</text>
<text x="161.52" y="557" font-size="7.8" text-anchor="end" fill="#1a1a1a" textLength="10.8" lengthAdjust="spacingAndGlyphs" transform="rotate(-90 161.52 557)"  stroke="#1a1a1a" stroke-width="0.14">0.1</text>
<line x1="171.99" y1="551.9" x2="171.99" y2="555.3" stroke="#111" stroke-width="0.9" />
<text x="171.99" y="549.7" font-size="5.9" text-anchor="middle" fill="#333" textLength="8" lengthAdjust="spacingAndGlyphs"  stroke="#333" stroke-width="0.14">2.6</text>
<text x="174.79" y="557" font-size="7.8" text-anchor="end" fill="#1a1a1a" textLength="3.9" lengthAdjust="spacingAndGlyphs" transform="rotate(-90 174.79 557)"  stroke="#1a1a1a" stroke-width="0.14">1</text>
<line x1="185.26" y1="551.9" x2="185.26" y2="555.3" stroke="#111" stroke-width="0.9" />
<text x="185.26" y="549.7" font-size="5.9" text-anchor="middle" fill="#333" textLength="8" lengthAdjust="spacingAndGlyphs"  stroke="#333" stroke-width="0.14">2.8</text>
<text x="188.06" y="557" font-size="7.8" text-anchor="end" fill="#1a1a1a" textLength="7.6" lengthAdjust="spacingAndGlyphs" transform="rotate(-90 188.06 557)"  stroke="#1a1a1a" stroke-width="0.14">10</text>
<line x1="198.53" y1="551.9" x2="198.53" y2="555.3" stroke="#111" stroke-width="0.9" />
<text x="198.53" y="549.7" font-size="5.9" text-anchor="middle" fill="#333" textLength="8" lengthAdjust="spacingAndGlyphs"  stroke="#333" stroke-width="0.14">2.5</text>
<text x="201.33" y="557" font-size="7.8" text-anchor="end" fill="#1a1a1a" textLength="10.8" lengthAdjust="spacingAndGlyphs" transform="rotate(-90 201.33 557)"  stroke="#1a1a1a" stroke-width="0.14">100</text>
<text x="56.6" y="525.3" font-size="9.4" text-anchor="start" fill="#111" textLength="60.7" lengthAdjust="spacingAndGlyphs" transform="rotate(-90 56.6 525.3)" stroke="#111" stroke-width="0.3">Fold MFI to untreated</text>
<text x="222.2" y="561" font-size="7.4" text-anchor="middle" fill="#222" textLength="18" lengthAdjust="spacingAndGlyphs"  stroke="#222" stroke-width="0.14">IFN-γ</text>
<text x="222.2" y="569.5" font-size="7.4" text-anchor="middle" fill="#222" textLength="25.6" lengthAdjust="spacingAndGlyphs"  stroke="#222" stroke-width="0.14">(ng/mL)</text>
<line x1="73.8" y1="578.8" x2="134.4" y2="578.8" stroke="#666" stroke-width="1.4" />
<text x="104.3" y="588.8" font-size="9.4" text-anchor="middle" fill="#111" textLength="27.4" lengthAdjust="spacingAndGlyphs" stroke="#111" stroke-width="0.32">Untreated</text>
<line x1="140.9" y1="578.8" x2="201" y2="578.8" stroke="#666" stroke-width="1.4" />
<text x="171.45" y="588.8" font-size="9.4" text-anchor="middle" fill="#111" textLength="28.5" lengthAdjust="spacingAndGlyphs" stroke="#111" stroke-width="0.32">Dac + Taz</text>
<line x1="76.7" y1="427.5" x2="146.7" y2="427.5" stroke="#555" stroke-width="1.3" />
<circle cx="79.2" cy="423.8" r="0.87" fill="#111"/>
<line x1="90.8" y1="420.4" x2="158.8" y2="420.4" stroke="#555" stroke-width="1.3" />
<circle cx="92.5" cy="416.5" r="0.87" fill="#111"/>
<line x1="103.7" y1="413.1" x2="171.7" y2="413.1" stroke="#555" stroke-width="1.3" />
<circle cx="104.46" cy="409.4" r="0.87" fill="#111"/>
<circle cx="106.74" cy="409.4" r="0.87" fill="#111"/>
<line x1="115.8" y1="406" x2="186" y2="406" stroke="#555" stroke-width="1.3" />
<circle cx="117.86" cy="402" r="0.87" fill="#111"/>
<circle cx="120.14" cy="402" r="0.87" fill="#111"/>
<line x1="129.2" y1="398.7" x2="196.5" y2="398.7" stroke="#555" stroke-width="1.3" />
<circle cx="130.86" cy="394.6" r="0.87" fill="#111"/>
<circle cx="133.14" cy="394.6" r="0.87" fill="#111"/>
<text x="91.5" y="373" font-size="10.1" text-anchor="start" fill="#1a1a1a" textLength="94.3" lengthAdjust="spacingAndGlyphs"  stroke="#1a1a1a" stroke-width="0.14">SUDHL-6 HLA-DR/DQ</text>
<rect x="325" y="483.3" width="11.9" height="58.6" fill="#e08397"/>
<rect x="338.12" y="482.5" width="11.9" height="59.4" fill="#e08397"/>
<rect x="351.24" y="484.2" width="11.9" height="57.7" fill="#e08397"/>
<rect x="364.36" y="483.3" width="11.9" height="58.6" fill="#e08397"/>
<rect x="377.48" y="483.3" width="11.9" height="58.6" fill="#e08397"/>
<rect x="390.6" y="458.8" width="11.9" height="83.1" fill="#fbc482"/>
<rect x="403.72" y="457.7" width="11.9" height="84.2" fill="#fbc482"/>
<rect x="416.84" y="449.6" width="11.9" height="92.3" fill="#fbc482"/>
<rect x="429.96" y="442.7" width="11.9" height="99.2" fill="#fbc482"/>
<rect x="443.08" y="441.3" width="11.9" height="100.6" fill="#fbc482"/>
<line x1="323.5" y1="483.5" x2="457" y2="483.5" stroke="#808080" stroke-width="0.9" stroke-dasharray="1.3,0.9"/>
<line x1="389.5" y1="412" x2="389.5" y2="568" stroke="#707070" stroke-width="0.9" stroke-dasharray="1.3,0.9"/>
<line x1="330.95" y1="479.5" x2="330.95" y2="486.7" stroke="#4a4a4a" stroke-width="0.9" />
<line x1="328.45" y1="479.5" x2="333.45" y2="479.5" stroke="#4a4a4a" stroke-width="0.9" />
<line x1="328.45" y1="486.7" x2="333.45" y2="486.7" stroke="#4a4a4a" stroke-width="0.9" />
<circle cx="330.95" cy="480" r="1.25" fill="#c8102e"/>
<circle cx="330.95" cy="484" r="1.25" fill="#c8102e"/>
<circle cx="330.95" cy="486" r="1.25" fill="#c8102e"/>
<line x1="344.07" y1="479.7" x2="344.07" y2="485.4" stroke="#4a4a4a" stroke-width="0.9" />
<line x1="341.57" y1="479.7" x2="346.57" y2="479.7" stroke="#4a4a4a" stroke-width="0.9" />
<line x1="341.57" y1="485.4" x2="346.57" y2="485.4" stroke="#4a4a4a" stroke-width="0.9" />
<circle cx="344.07" cy="480" r="1.25" fill="#c8102e"/>
<circle cx="344.07" cy="483" r="1.25" fill="#c8102e"/>
<circle cx="344.07" cy="485" r="1.25" fill="#c8102e"/>
<line x1="357.19" y1="482.5" x2="357.19" y2="489" stroke="#4a4a4a" stroke-width="0.9" />
<line x1="354.69" y1="482.5" x2="359.69" y2="482.5" stroke="#4a4a4a" stroke-width="0.9" />
<line x1="354.69" y1="489" x2="359.69" y2="489" stroke="#4a4a4a" stroke-width="0.9" />
<circle cx="357.19" cy="483" r="1.25" fill="#c8102e"/>
<circle cx="357.19" cy="486" r="1.25" fill="#c8102e"/>
<circle cx="357.19" cy="489" r="1.25" fill="#c8102e"/>
<line x1="370.31" y1="479.5" x2="370.31" y2="486" stroke="#4a4a4a" stroke-width="0.9" />
<line x1="367.81" y1="479.5" x2="372.81" y2="479.5" stroke="#4a4a4a" stroke-width="0.9" />
<line x1="367.81" y1="486" x2="372.81" y2="486" stroke="#4a4a4a" stroke-width="0.9" />
<circle cx="370.31" cy="479.5" r="1.25" fill="#c8102e"/>
<circle cx="370.31" cy="484" r="1.25" fill="#c8102e"/>
<circle cx="370.31" cy="486" r="1.25" fill="#c8102e"/>
<line x1="383.43" y1="480" x2="383.43" y2="490" stroke="#4a4a4a" stroke-width="0.9" />
<line x1="380.93" y1="480" x2="385.93" y2="480" stroke="#4a4a4a" stroke-width="0.9" />
<line x1="380.93" y1="490" x2="385.93" y2="490" stroke="#4a4a4a" stroke-width="0.9" />
<circle cx="383.43" cy="480" r="1.25" fill="#c8102e"/>
<circle cx="383.43" cy="485" r="1.25" fill="#c8102e"/>
<circle cx="383.43" cy="490" r="1.25" fill="#c8102e"/>
<line x1="396.55" y1="451.3" x2="396.55" y2="466.9" stroke="#4a4a4a" stroke-width="0.9" />
<line x1="394.05" y1="451.3" x2="399.05" y2="451.3" stroke="#4a4a4a" stroke-width="0.9" />
<line x1="394.05" y1="466.9" x2="399.05" y2="466.9" stroke="#4a4a4a" stroke-width="0.9" />
<circle cx="396.55" cy="451" r="1.25" fill="#f7941d"/>
<circle cx="396.55" cy="457" r="1.25" fill="#f7941d"/>
<circle cx="396.55" cy="467" r="1.25" fill="#f7941d"/>
<line x1="409.67" y1="455.3" x2="409.67" y2="460.3" stroke="#4a4a4a" stroke-width="0.9" />
<line x1="407.17" y1="455.3" x2="412.17" y2="455.3" stroke="#4a4a4a" stroke-width="0.9" />
<line x1="407.17" y1="460.3" x2="412.17" y2="460.3" stroke="#4a4a4a" stroke-width="0.9" />
<circle cx="409.67" cy="455" r="1.25" fill="#f7941d"/>
<circle cx="409.67" cy="459" r="1.25" fill="#f7941d"/>
<circle cx="409.67" cy="460" r="1.25" fill="#f7941d"/>
<line x1="422.79" y1="442.7" x2="422.79" y2="456.2" stroke="#4a4a4a" stroke-width="0.9" />
<line x1="420.29" y1="442.7" x2="425.29" y2="442.7" stroke="#4a4a4a" stroke-width="0.9" />
<line x1="420.29" y1="456.2" x2="425.29" y2="456.2" stroke="#4a4a4a" stroke-width="0.9" />
<circle cx="422.79" cy="443" r="1.25" fill="#f7941d"/>
<circle cx="422.79" cy="454" r="1.25" fill="#f7941d"/>
<circle cx="422.79" cy="456" r="1.25" fill="#f7941d"/>
<line x1="435.91" y1="425.4" x2="435.91" y2="460" stroke="#4a4a4a" stroke-width="0.9" />
<line x1="433.41" y1="425.4" x2="438.41" y2="425.4" stroke="#4a4a4a" stroke-width="0.9" />
<line x1="433.41" y1="460" x2="438.41" y2="460" stroke="#4a4a4a" stroke-width="0.9" />
<circle cx="435.91" cy="425.4" r="1.25" fill="#f7941d"/>
<circle cx="435.91" cy="445.5" r="1.25" fill="#f7941d"/>
<circle cx="435.91" cy="460" r="1.25" fill="#f7941d"/>
<line x1="449.03" y1="439.2" x2="449.03" y2="443.5" stroke="#4a4a4a" stroke-width="0.9" />
<line x1="446.53" y1="439.2" x2="451.53" y2="439.2" stroke="#4a4a4a" stroke-width="0.9" />
<line x1="446.53" y1="443.5" x2="451.53" y2="443.5" stroke="#4a4a4a" stroke-width="0.9" />
<circle cx="449.03" cy="439" r="1.25" fill="#f7941d"/>
<circle cx="449.03" cy="443" r="1.25" fill="#f7941d"/>
<line x1="323.5" y1="419.8" x2="323.5" y2="552.7" stroke="#111" stroke-width="1.2" />
<line x1="322.9" y1="552.1" x2="456.5" y2="552.1" stroke="#111" stroke-width="1.2" />
<line x1="320.2" y1="541.9" x2="323.5" y2="541.9" stroke="#111" stroke-width="1" />
<text x="318.4" y="544.4" font-size="7.0" text-anchor="end" fill="#222" textLength="10.8" lengthAdjust="spacingAndGlyphs"  stroke="#222" stroke-width="0.14">0.0</text>
<line x1="320.2" y1="512.82" x2="323.5" y2="512.82" stroke="#111" stroke-width="1" />
<text x="318.4" y="515.32" font-size="7.0" text-anchor="end" fill="#222" textLength="10.8" lengthAdjust="spacingAndGlyphs"  stroke="#222" stroke-width="0.14">0.5</text>
<line x1="320.2" y1="483.75" x2="323.5" y2="483.75" stroke="#111" stroke-width="1" />
<text x="318.4" y="486.25" font-size="7.0" text-anchor="end" fill="#222" textLength="10.8" lengthAdjust="spacingAndGlyphs"  stroke="#222" stroke-width="0.14">1.0</text>
<line x1="320.2" y1="454.67" x2="323.5" y2="454.67" stroke="#111" stroke-width="1" />
<text x="318.4" y="457.17" font-size="7.0" text-anchor="end" fill="#222" textLength="10.8" lengthAdjust="spacingAndGlyphs"  stroke="#222" stroke-width="0.14">1.5</text>
<line x1="320.2" y1="425.6" x2="323.5" y2="425.6" stroke="#111" stroke-width="1" />
<text x="318.4" y="428.1" font-size="7.0" text-anchor="end" fill="#222" textLength="10.8" lengthAdjust="spacingAndGlyphs"  stroke="#222" stroke-width="0.14">2.0</text>
<line x1="330.95" y1="552.1" x2="330.95" y2="555.5" stroke="#111" stroke-width="0.9" />
<text x="330.95" y="548" font-size="5.9" text-anchor="middle" fill="#333" textLength="8" lengthAdjust="spacingAndGlyphs"  stroke="#333" stroke-width="0.14">1.0</text>
<text x="333.75" y="557" font-size="7.8" text-anchor="end" fill="#1a1a1a" textLength="3.9" lengthAdjust="spacingAndGlyphs" transform="rotate(-90 333.75 557)"  stroke="#1a1a1a" stroke-width="0.14">0</text>
<line x1="344.07" y1="552.1" x2="344.07" y2="555.5" stroke="#111" stroke-width="0.9" />
<text x="344.07" y="548" font-size="5.9" text-anchor="middle" fill="#333" textLength="8" lengthAdjust="spacingAndGlyphs"  stroke="#333" stroke-width="0.14">1.0</text>
<text x="346.87" y="557" font-size="7.8" text-anchor="end" fill="#1a1a1a" textLength="10.8" lengthAdjust="spacingAndGlyphs" transform="rotate(-90 346.87 557)"  stroke="#1a1a1a" stroke-width="0.14">0.1</text>
<line x1="357.19" y1="552.1" x2="357.19" y2="555.5" stroke="#111" stroke-width="0.9" />
<text x="357.19" y="548" font-size="5.9" text-anchor="middle" fill="#333" textLength="11" lengthAdjust="spacingAndGlyphs"  stroke="#333" stroke-width="0.14">0.99</text>
<text x="359.99" y="557" font-size="7.8" text-anchor="end" fill="#1a1a1a" textLength="3.9" lengthAdjust="spacingAndGlyphs" transform="rotate(-90 359.99 557)"  stroke="#1a1a1a" stroke-width="0.14">1</text>
<line x1="370.31" y1="552.1" x2="370.31" y2="555.5" stroke="#111" stroke-width="0.9" />
<text x="370.31" y="548" font-size="5.9" text-anchor="middle" fill="#333" textLength="8" lengthAdjust="spacingAndGlyphs"  stroke="#333" stroke-width="0.14">1.0</text>
<text x="373.11" y="557" font-size="7.8" text-anchor="end" fill="#1a1a1a" textLength="7.6" lengthAdjust="spacingAndGlyphs" transform="rotate(-90 373.11 557)"  stroke="#1a1a1a" stroke-width="0.14">10</text>
<line x1="383.43" y1="552.1" x2="383.43" y2="555.5" stroke="#111" stroke-width="0.9" />
<text x="383.43" y="548" font-size="5.9" text-anchor="middle" fill="#333" textLength="8" lengthAdjust="spacingAndGlyphs"  stroke="#333" stroke-width="0.14">1.0</text>
<text x="386.23" y="557" font-size="7.8" text-anchor="end" fill="#1a1a1a" textLength="10.8" lengthAdjust="spacingAndGlyphs" transform="rotate(-90 386.23 557)"  stroke="#1a1a1a" stroke-width="0.14">100</text>
<line x1="396.55" y1="552.1" x2="396.55" y2="555.5" stroke="#111" stroke-width="0.9" />
<text x="396.55" y="548" font-size="5.9" text-anchor="middle" fill="#333" textLength="8" lengthAdjust="spacingAndGlyphs"  stroke="#333" stroke-width="0.14">1.4</text>
<text x="399.35" y="557" font-size="7.8" text-anchor="end" fill="#1a1a1a" textLength="3.9" lengthAdjust="spacingAndGlyphs" transform="rotate(-90 399.35 557)"  stroke="#1a1a1a" stroke-width="0.14">0</text>
<line x1="409.67" y1="552.1" x2="409.67" y2="555.5" stroke="#111" stroke-width="0.9" />
<text x="409.67" y="548" font-size="5.9" text-anchor="middle" fill="#333" textLength="8" lengthAdjust="spacingAndGlyphs"  stroke="#333" stroke-width="0.14">1.4</text>
<text x="412.47" y="557" font-size="7.8" text-anchor="end" fill="#1a1a1a" textLength="10.8" lengthAdjust="spacingAndGlyphs" transform="rotate(-90 412.47 557)"  stroke="#1a1a1a" stroke-width="0.14">0.1</text>
<line x1="422.79" y1="552.1" x2="422.79" y2="555.5" stroke="#111" stroke-width="0.9" />
<text x="422.79" y="548" font-size="5.9" text-anchor="middle" fill="#333" textLength="8" lengthAdjust="spacingAndGlyphs"  stroke="#333" stroke-width="0.14">1.6</text>
<text x="425.59" y="557" font-size="7.8" text-anchor="end" fill="#1a1a1a" textLength="3.9" lengthAdjust="spacingAndGlyphs" transform="rotate(-90 425.59 557)"  stroke="#1a1a1a" stroke-width="0.14">1</text>
<line x1="435.91" y1="552.1" x2="435.91" y2="555.5" stroke="#111" stroke-width="0.9" />
<text x="435.91" y="548" font-size="5.9" text-anchor="middle" fill="#333" textLength="8" lengthAdjust="spacingAndGlyphs"  stroke="#333" stroke-width="0.14">1.7</text>
<text x="438.71" y="557" font-size="7.8" text-anchor="end" fill="#1a1a1a" textLength="7.6" lengthAdjust="spacingAndGlyphs" transform="rotate(-90 438.71 557)"  stroke="#1a1a1a" stroke-width="0.14">10</text>
<line x1="449.03" y1="552.1" x2="449.03" y2="555.5" stroke="#111" stroke-width="0.9" />
<text x="449.03" y="548" font-size="5.9" text-anchor="middle" fill="#333" textLength="8" lengthAdjust="spacingAndGlyphs"  stroke="#333" stroke-width="0.14">1.7</text>
<text x="451.83" y="557" font-size="7.8" text-anchor="end" fill="#1a1a1a" textLength="10.8" lengthAdjust="spacingAndGlyphs" transform="rotate(-90 451.83 557)"  stroke="#1a1a1a" stroke-width="0.14">100</text>
<text x="302" y="514" font-size="9.4" text-anchor="start" fill="#111" textLength="61.3" lengthAdjust="spacingAndGlyphs" transform="rotate(-90 302 514)" stroke="#111" stroke-width="0.3">Fold MFI to untreated</text>
<text x="473.8" y="559.8" font-size="7.4" text-anchor="middle" fill="#222" textLength="18" lengthAdjust="spacingAndGlyphs"  stroke="#222" stroke-width="0.14">IFN-γ</text>
<text x="473.8" y="568.3" font-size="7.4" text-anchor="middle" fill="#222" textLength="25.6" lengthAdjust="spacingAndGlyphs"  stroke="#222" stroke-width="0.14">(ng/mL)</text>
<line x1="325.8" y1="578.8" x2="386" y2="578.8" stroke="#666" stroke-width="1.4" />
<text x="355.85" y="588.8" font-size="9.4" text-anchor="middle" fill="#111" textLength="27.5" lengthAdjust="spacingAndGlyphs" stroke="#111" stroke-width="0.32">Untreated</text>
<line x1="393" y1="578.8" x2="453.1" y2="578.8" stroke="#666" stroke-width="1.4" />
<text x="423.05" y="588.8" font-size="9.4" text-anchor="middle" fill="#111" textLength="28.7" lengthAdjust="spacingAndGlyphs" stroke="#111" stroke-width="0.32">Dac + Taz</text>
<line x1="326.2" y1="408.7" x2="397.7" y2="408.7" stroke="#555" stroke-width="1.3" />
<circle cx="326.5" cy="405.5" r="0.87" fill="#111"/>
<line x1="340.2" y1="401.9" x2="410.6" y2="401.9" stroke="#555" stroke-width="1.3" />
<circle cx="342.02" cy="398.3" r="0.87" fill="#111"/>
<circle cx="344.3" cy="398.3" r="0.87" fill="#111"/>
<circle cx="346.58" cy="398.3" r="0.87" fill="#111"/>
<line x1="355.4" y1="395.6" x2="423.1" y2="395.6" stroke="#555" stroke-width="1.3" />
<circle cx="356.36" cy="391.7" r="0.87" fill="#111"/>
<circle cx="358.64" cy="391.7" r="0.87" fill="#111"/>
<line x1="365" y1="388.8" x2="437.5" y2="388.8" stroke="#555" stroke-width="1.3" />
<text x="370.2" y="386.3" font-size="6.4" text-anchor="middle" fill="#222" textLength="13.2" lengthAdjust="spacingAndGlyphs"  stroke="#222" stroke-width="0.14">.051</text>
<line x1="377.9" y1="379.2" x2="448.1" y2="379.2" stroke="#555" stroke-width="1.3" />
<circle cx="380.37" cy="375.5" r="0.87" fill="#111"/>
<circle cx="382.66" cy="375.5" r="0.87" fill="#111"/>
<circle cx="384.94" cy="375.5" r="0.87" fill="#111"/>
<circle cx="387.23" cy="375.5" r="0.87" fill="#111"/>
<text x="340.6" y="372.2" font-size="10.1" text-anchor="start" fill="#1a1a1a" textLength="98.8" lengthAdjust="spacingAndGlyphs"  stroke="#1a1a1a" stroke-width="0.14">SUDHL-10 HLA-DR/DQ</text>
</g>
<rect x="0" y="0" width="520" height="1.3" fill="#000"/><rect x="0" y="0" width="1.3" height="595" fill="#000"/><rect x="518.8" y="0" width="1.2" height="595" fill="#000"/><rect x="0" y="593.8" width="520" height="1.2" fill="#000"/>
</svg>
</body></html>
